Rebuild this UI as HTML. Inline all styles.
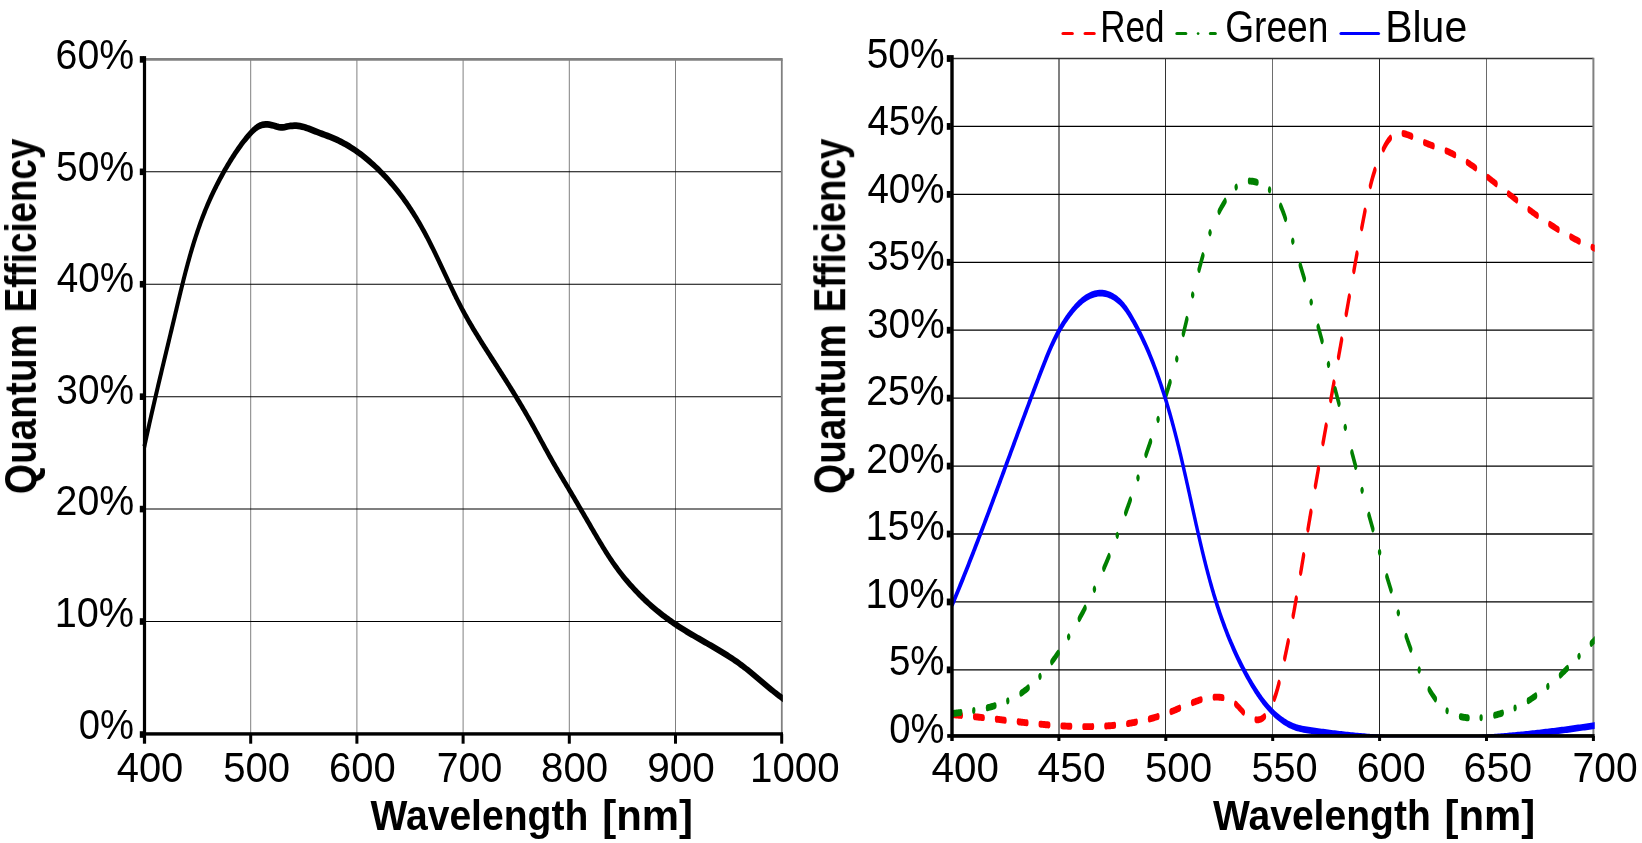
<!DOCTYPE html>
<html><head><meta charset="utf-8"><title>Quantum Efficiency</title>
<style>
html,body{margin:0;padding:0;background:#fff;}
svg{display:block;}
text{font-family:"Liberation Sans",sans-serif;}
text{filter:url(#gs);}
</style></head><body>
<svg width="1642" height="843" viewBox="0 0 1642 843">
<rect x="0" y="0" width="1642" height="843" fill="#fff"/>
<defs>
<filter id="gs" x="-5%" y="-20%" width="110%" height="140%" color-interpolation-filters="sRGB"><feOffset dx="0" dy="0"/></filter>
<clipPath id="lc"><rect x="140" y="0" width="642.8" height="737"/></clipPath>
<clipPath id="rc"><rect x="950" y="0" width="644.7" height="737.2"/></clipPath>
</defs>
<g fill="none">
<line x1="250.70" y1="59.40" x2="250.70" y2="733.92" stroke="#808080" stroke-width="1"/>
<line x1="356.90" y1="59.40" x2="356.90" y2="733.92" stroke="#808080" stroke-width="1"/>
<line x1="463.10" y1="59.40" x2="463.10" y2="733.92" stroke="#808080" stroke-width="1"/>
<line x1="569.30" y1="59.40" x2="569.30" y2="733.92" stroke="#808080" stroke-width="1"/>
<line x1="675.50" y1="59.40" x2="675.50" y2="733.92" stroke="#808080" stroke-width="1"/>
<line x1="144.50" y1="171.82" x2="781.70" y2="171.82" stroke="#000" stroke-width="1.05"/>
<line x1="144.50" y1="284.24" x2="781.70" y2="284.24" stroke="#000" stroke-width="1.05"/>
<line x1="144.50" y1="396.66" x2="781.70" y2="396.66" stroke="#000" stroke-width="1.05"/>
<line x1="144.50" y1="509.08" x2="781.70" y2="509.08" stroke="#000" stroke-width="1.05"/>
<line x1="144.50" y1="621.50" x2="781.70" y2="621.50" stroke="#000" stroke-width="1.05"/>
<line x1="144.50" y1="59.40" x2="782.70" y2="59.40" stroke="#808080" stroke-width="2.7"/>
<line x1="781.80" y1="59.40" x2="781.80" y2="733.92" stroke="#808080" stroke-width="1.8"/>
</g>
<g clip-path="url(#lc)"><g transform="scale(1,1.750)"><path d="M144.27,255.40 L144.67,254.32 L145.08,253.24 L145.49,252.16 L145.90,251.08 L146.31,249.99 L146.73,248.91 L147.14,247.83 L147.56,246.75 L147.98,245.67 L148.40,244.59 L148.82,243.52 L149.24,242.44 L149.66,241.36 L150.09,240.28 L150.51,239.20 L150.94,238.12 L151.37,237.04 L151.80,235.96 L152.23,234.89 L152.67,233.81 L153.10,232.73 L153.53,231.65 L153.97,230.57 L154.41,229.50 L154.84,228.42 L155.28,227.34 L155.72,226.27 L156.16,225.19 L156.60,224.11 L157.05,223.03 L157.49,221.96 L157.93,220.88 L158.38,219.80 L158.82,218.73 L159.27,217.65 L159.71,216.57 L160.16,215.50 L160.61,214.42 L161.06,213.35 L161.51,212.27 L161.95,211.19 L162.40,210.12 L162.85,209.04 L163.30,207.97 L163.75,206.89 L164.21,205.81 L164.66,204.74 L165.11,203.66 L165.56,202.59 L166.01,201.51 L166.46,200.43 L166.92,199.36 L167.37,198.28 L167.82,197.21 L168.27,196.13 L168.72,195.05 L169.18,193.98 L169.63,192.90 L170.08,191.83 L170.53,190.75 L170.98,189.67 L171.44,188.60 L171.89,187.52 L172.34,186.45 L172.79,185.37 L173.24,184.29 L173.69,183.22 L174.14,182.14 L174.59,181.06 L175.04,179.99 L175.48,178.91 L175.93,177.83 L176.38,176.76 L176.83,175.68 L177.28,174.60 L177.72,173.53 L178.17,172.45 L178.62,171.37 L179.07,170.30 L179.53,169.22 L179.98,168.14 L180.43,167.07 L180.89,165.99 L181.35,164.92 L181.81,163.84 L182.28,162.77 L182.74,161.70 L183.21,160.62 L183.68,159.55 L184.16,158.48 L184.64,157.41 L185.12,156.34 L185.60,155.27 L186.09,154.20 L186.59,153.13 L187.09,152.06 L187.59,150.99 L188.10,149.93 L188.61,148.86 L189.13,147.80 L189.65,146.73 L190.18,145.67 L190.71,144.61 L191.25,143.55 L191.80,142.49 L192.35,141.43 L192.91,140.37 L193.47,139.32 L194.05,138.26 L194.63,137.21 L195.21,136.16 L195.81,135.11 L196.41,134.06 L197.02,133.01 L197.64,131.96 L198.26,130.92 L198.90,129.87 L199.54,128.83 L200.19,127.79 L200.85,126.75 L201.52,125.71 L202.20,124.68 L202.89,123.64 L203.59,122.61 L204.30,121.58 L205.02,120.55 L205.75,119.52 L206.49,118.50 L207.24,117.47 L208.00,116.45 L208.77,115.43 L209.56,114.41 L210.35,113.40 L211.16,112.39 L211.98,111.38 L212.80,110.37 L213.64,109.36 L214.49,108.36 L215.35,107.36 L216.22,106.37 L217.09,105.37 L217.98,104.38 L218.88,103.40 L219.79,102.41 L220.70,101.44 L221.63,100.46 L222.57,99.49 L223.51,98.52 L224.46,97.56 L225.43,96.60 L226.40,95.65 L227.38,94.70 L228.36,93.76 L229.36,92.82 L230.36,91.89 L231.38,90.96 L232.40,90.03 L233.42,89.12 L234.46,88.20 L235.51,87.30 L236.56,86.40 L237.63,85.50 L238.72,84.61 L239.82,83.72 L240.94,82.84 L242.08,81.96 L243.25,81.09 L244.44,80.22 L245.66,79.36 L246.91,78.49 L248.19,77.64 L249.51,76.78 L250.86,75.93 L252.25,75.09 L253.68,74.28 L255.18,73.53 L256.73,72.84 L258.35,72.25 L260.05,71.77 L261.83,71.41 L263.69,71.20 L265.60,71.11 L267.55,71.13 L269.51,71.24 L271.46,71.45 L273.38,71.73 L275.26,72.05 L277.12,72.37 L278.97,72.63 L280.83,72.77 L282.71,72.75 L284.61,72.59 L286.53,72.37 L288.46,72.14 L290.40,71.97 L292.33,71.87 L294.26,71.82 L296.19,71.84 L298.10,71.93 L300.01,72.09 L301.89,72.31 L303.77,72.59 L305.63,72.91 L307.49,73.28 L309.33,73.67 L311.17,74.08 L313.00,74.49 L314.83,74.91 L316.65,75.32 L318.47,75.72 L320.29,76.11 L322.10,76.50 L323.90,76.88 L325.70,77.26 L327.50,77.65 L329.28,78.04 L331.05,78.44 L332.82,78.85 L334.57,79.28 L336.32,79.73 L338.05,80.19 L339.77,80.67 L341.48,81.17 L343.17,81.68 L344.86,82.21 L346.53,82.75 L348.19,83.31 L349.84,83.88 L351.48,84.47 L353.10,85.07 L354.72,85.69 L356.32,86.31 L357.90,86.96 L359.48,87.61 L361.04,88.27 L362.58,88.95 L364.12,89.64 L365.64,90.34 L367.15,91.05 L368.64,91.76 L370.13,92.49 L371.59,93.23 L373.05,93.98 L374.49,94.73 L375.91,95.49 L377.33,96.27 L378.72,97.04 L380.11,97.83 L381.48,98.62 L382.83,99.41 L384.17,100.22 L385.50,101.03 L386.82,101.84 L388.12,102.66 L389.40,103.49 L390.68,104.32 L391.94,105.16 L393.18,106.01 L394.42,106.86 L395.64,107.71 L396.85,108.57 L398.04,109.44 L399.23,110.31 L400.40,111.19 L401.56,112.07 L402.70,112.95 L403.84,113.85 L404.96,114.74 L406.08,115.64 L407.18,116.55 L408.27,117.46 L409.34,118.37 L410.41,119.29 L411.47,120.21 L412.51,121.14 L413.55,122.07 L414.58,123.00 L415.59,123.94 L416.59,124.88 L417.59,125.82 L418.57,126.77 L419.55,127.73 L420.51,128.68 L421.47,129.64 L422.42,130.60 L423.35,131.57 L424.28,132.54 L425.20,133.51 L426.11,134.48 L427.02,135.46 L427.91,136.44 L428.80,137.42 L429.68,138.41 L430.55,139.39 L431.42,140.38 L432.28,141.37 L433.14,142.36 L433.99,143.36 L434.84,144.35 L435.68,145.35 L436.52,146.35 L437.35,147.35 L438.19,148.35 L439.01,149.35 L439.84,150.35 L440.67,151.36 L441.49,152.36 L442.31,153.36 L443.13,154.37 L443.95,155.37 L444.77,156.38 L445.60,157.38 L446.42,158.38 L447.24,159.39 L448.06,160.39 L448.89,161.39 L449.72,162.40 L450.55,163.40 L451.38,164.40 L452.22,165.40 L453.06,166.40 L453.91,167.39 L454.76,168.39 L455.62,169.38 L456.48,170.37 L457.34,171.36 L458.21,172.35 L459.09,173.34 L459.98,174.32 L460.87,175.30 L461.77,176.28 L462.68,177.26 L463.60,178.23 L464.53,179.20 L465.46,180.17 L466.40,181.13 L467.35,182.10 L468.31,183.06 L469.27,184.02 L470.24,184.97 L471.22,185.93 L472.20,186.88 L473.19,187.83 L474.19,188.78 L475.19,189.72 L476.19,190.67 L477.20,191.61 L478.22,192.55 L479.24,193.49 L480.26,194.43 L481.29,195.37 L482.32,196.31 L483.35,197.25 L484.39,198.18 L485.43,199.11 L486.47,200.05 L487.51,200.98 L488.55,201.91 L489.60,202.85 L490.65,203.78 L491.69,204.71 L492.74,205.64 L493.79,206.57 L494.84,207.50 L495.89,208.43 L496.94,209.36 L497.98,210.29 L499.03,211.23 L500.07,212.16 L501.12,213.09 L502.16,214.02 L503.20,214.96 L504.23,215.89 L505.27,216.83 L506.30,217.76 L507.34,218.70 L508.37,219.64 L509.39,220.58 L510.42,221.52 L511.44,222.45 L512.46,223.40 L513.47,224.34 L514.49,225.28 L515.50,226.22 L516.50,227.17 L517.51,228.11 L518.51,229.06 L519.51,230.01 L520.50,230.96 L521.49,231.91 L522.48,232.86 L523.46,233.81 L524.44,234.76 L525.41,235.72 L526.39,236.68 L527.35,237.63 L528.31,238.59 L529.27,239.55 L530.22,240.52 L531.17,241.48 L532.12,242.45 L533.06,243.41 L534.00,244.38 L534.93,245.35 L535.86,246.32 L536.79,247.29 L537.72,248.26 L538.64,249.23 L539.57,250.20 L540.49,251.18 L541.42,252.15 L542.34,253.12 L543.27,254.09 L544.19,255.06 L545.12,256.03 L546.05,257.00 L546.98,257.97 L547.92,258.94 L548.86,259.91 L549.80,260.88 L550.75,261.84 L551.70,262.81 L552.65,263.77 L553.61,264.73 L554.58,265.69 L555.55,266.65 L556.52,267.60 L557.50,268.56 L558.48,269.51 L559.46,270.47 L560.45,271.42 L561.43,272.37 L562.42,273.33 L563.41,274.28 L564.40,275.23 L565.39,276.18 L566.38,277.13 L567.38,278.08 L568.37,279.03 L569.35,279.98 L570.34,280.93 L571.33,281.88 L572.31,282.84 L573.30,283.79 L574.28,284.74 L575.26,285.70 L576.24,286.65 L577.22,287.60 L578.20,288.56 L579.17,289.51 L580.15,290.47 L581.13,291.42 L582.10,292.38 L583.08,293.33 L584.05,294.29 L585.02,295.24 L586.00,296.20 L586.97,297.15 L587.95,298.11 L588.92,299.07 L589.89,300.02 L590.87,300.98 L591.84,301.93 L592.82,302.89 L593.80,303.85 L594.77,304.80 L595.75,305.76 L596.73,306.71 L597.72,307.67 L598.70,308.62 L599.69,309.57 L600.69,310.52 L601.69,311.47 L602.70,312.42 L603.71,313.36 L604.73,314.30 L605.76,315.24 L606.79,316.18 L607.84,317.11 L608.89,318.03 L609.95,318.96 L611.02,319.88 L612.11,320.80 L613.20,321.71 L614.31,322.61 L615.43,323.51 L616.56,324.41 L617.71,325.30 L618.87,326.19 L620.04,327.07 L621.22,327.94 L622.42,328.81 L623.63,329.67 L624.85,330.53 L626.09,331.38 L627.34,332.23 L628.60,333.07 L629.87,333.90 L631.15,334.73 L632.45,335.55 L633.76,336.37 L635.08,337.18 L636.41,337.98 L637.75,338.78 L639.10,339.57 L640.47,340.35 L641.85,341.13 L643.24,341.90 L644.63,342.67 L646.04,343.43 L647.47,344.18 L648.90,344.93 L650.34,345.66 L651.79,346.40 L653.26,347.12 L654.73,347.84 L656.21,348.55 L657.71,349.25 L659.21,349.95 L660.73,350.64 L662.25,351.32 L663.79,352.00 L665.33,352.66 L666.88,353.32 L668.45,353.98 L670.02,354.62 L671.60,355.26 L673.19,355.89 L674.79,356.51 L676.40,357.13 L678.01,357.73 L679.64,358.34 L681.27,358.93 L682.91,359.52 L684.55,360.10 L686.20,360.68 L687.86,361.25 L689.52,361.82 L691.19,362.39 L692.86,362.95 L694.53,363.51 L696.20,364.07 L697.88,364.62 L699.56,365.17 L701.24,365.73 L702.92,366.28 L704.61,366.83 L706.29,367.38 L707.97,367.93 L709.65,368.48 L711.33,369.03 L713.00,369.59 L714.67,370.15 L716.34,370.71 L718.01,371.27 L719.67,371.84 L721.33,372.41 L722.98,372.98 L724.63,373.56 L726.27,374.15 L727.90,374.74 L729.52,375.33 L731.14,375.94 L732.75,376.55 L734.35,377.17 L735.94,377.79 L737.52,378.42 L739.09,379.07 L740.65,379.72 L742.20,380.38 L743.74,381.05 L745.27,381.72 L746.79,382.41 L748.30,383.10 L749.81,383.79 L751.31,384.50 L752.80,385.20 L754.29,385.91 L755.78,386.63 L757.26,387.34 L758.74,388.06 L760.22,388.77 L761.71,389.49 L763.19,390.21 L764.67,390.92 L766.15,391.64 L767.64,392.35 L769.13,393.06 L770.63,393.76 L772.13,394.46 L773.64,395.15 L775.16,395.84 L776.69,396.51 L778.22,397.19 L779.76,397.85 L781.32,398.50 L782.89,399.15 L784.47,399.78 L786.06,400.40" fill="none" stroke="#000" stroke-width="3.86" stroke-linejoin="round" stroke-linecap="butt"/></g></g>
<g fill="#000">
<rect x="142.90" y="56.10" width="3.2" height="687.60"/>
<rect x="142.90" y="732.22" width="640.10" height="3.4"/>
<rect x="139.8" y="56.10" width="4" height="6.6"/>
<rect x="139.8" y="168.52" width="4" height="6.6"/>
<rect x="139.8" y="280.94" width="4" height="6.6"/>
<rect x="139.8" y="393.36" width="4" height="6.6"/>
<rect x="139.8" y="505.78" width="4" height="6.6"/>
<rect x="139.8" y="618.20" width="4" height="6.6"/>
<rect x="139.8" y="731.22" width="4" height="6.6"/>
<rect x="249.20" y="733.92" width="3" height="9.78"/>
<rect x="355.40" y="733.92" width="3" height="9.78"/>
<rect x="461.60" y="733.92" width="3" height="9.78"/>
<rect x="567.80" y="733.92" width="3" height="9.78"/>
<rect x="674.00" y="733.92" width="3" height="9.78"/>
<rect x="780.20" y="733.92" width="3" height="9.78"/>
</g>
<text transform="translate(55.54,69.00) scale(0.9134,1)" font-size="43.00" font-weight="normal" fill="#000">60%</text>
<text transform="translate(55.94,180.60) scale(0.9087,1)" font-size="43.00" font-weight="normal" fill="#000">50%</text>
<text transform="translate(56.73,292.20) scale(0.8994,1)" font-size="43.00" font-weight="normal" fill="#000">40%</text>
<text transform="translate(56.33,403.80) scale(0.9040,1)" font-size="43.00" font-weight="normal" fill="#000">30%</text>
<text transform="translate(55.54,515.40) scale(0.9134,1)" font-size="43.00" font-weight="normal" fill="#000">20%</text>
<text transform="translate(54.72,627.00) scale(0.9230,1)" font-size="43.00" font-weight="normal" fill="#000">10%</text>
<text transform="translate(78.85,738.60) scale(0.8892,1)" font-size="43.00" font-weight="normal" fill="#000">0%</text>
<text transform="translate(116.70,781.70) scale(0.9289,1)" font-size="43.00" font-weight="normal" fill="#000">400</text>
<text transform="translate(223.19,781.70) scale(0.9333,1)" font-size="43.00" font-weight="normal" fill="#000">500</text>
<text transform="translate(329.00,781.70) scale(0.9303,1)" font-size="43.00" font-weight="normal" fill="#000">600</text>
<text transform="translate(436.74,781.70) scale(0.9127,1)" font-size="43.00" font-weight="normal" fill="#000">700</text>
<text transform="translate(541.09,781.70) scale(0.9347,1)" font-size="43.00" font-weight="normal" fill="#000">800</text>
<text transform="translate(647.28,781.70) scale(0.9420,1)" font-size="43.00" font-weight="normal" fill="#000">900</text>
<text transform="translate(749.98,781.70) scale(0.9375,1)" font-size="43.00" font-weight="normal" fill="#000">1000</text>
<text transform="translate(370.50,829.80) scale(0.9089,1)" font-size="43.00" font-weight="bold" fill="#000">Wavelength</text>
<text transform="translate(602.20,829.80) scale(0.9751,1)" font-size="43.00" font-weight="bold" fill="#000">[nm]</text>
<text transform="rotate(-90) translate(-494.15,36.00) scale(0.8912,1)" font-size="43.50" font-weight="bold" fill="#000">Quantum</text>
<text transform="rotate(-90) translate(-312.31,36.00) scale(0.8451,1)" font-size="43.50" font-weight="bold" fill="#000">Efficiency</text>
<g fill="none">
<rect x="1058" y="58.50" width="2" height="677.50" fill="#808080" stroke="none"/>
<rect x="1165" y="58.50" width="1" height="677.50" fill="#333" stroke="none"/>
<rect x="1272" y="58.50" width="1" height="677.50" fill="#6e6e6e" stroke="none"/>
<rect x="1379" y="58.50" width="1" height="677.50" fill="#222" stroke="none"/>
<rect x="1486" y="58.50" width="1" height="677.50" fill="#6a6a6a" stroke="none"/>
<line x1="952.00" y1="58.50" x2="1593.40" y2="58.50" stroke="#333" stroke-width="1.3"/>
<line x1="952.00" y1="126.43" x2="1593.40" y2="126.43" stroke="#000" stroke-width="1.3"/>
<line x1="952.00" y1="194.36" x2="1593.40" y2="194.36" stroke="#000" stroke-width="1.3"/>
<line x1="952.00" y1="262.29" x2="1593.40" y2="262.29" stroke="#000" stroke-width="1.3"/>
<line x1="952.00" y1="330.22" x2="1593.40" y2="330.22" stroke="#000" stroke-width="1.3"/>
<line x1="952.00" y1="398.15" x2="1593.40" y2="398.15" stroke="#000" stroke-width="1.3"/>
<line x1="952.00" y1="466.08" x2="1593.40" y2="466.08" stroke="#000" stroke-width="1.3"/>
<line x1="952.00" y1="534.01" x2="1593.40" y2="534.01" stroke="#000" stroke-width="1.3"/>
<line x1="952.00" y1="601.94" x2="1593.40" y2="601.94" stroke="#000" stroke-width="1.3"/>
<line x1="952.00" y1="669.87" x2="1593.40" y2="669.87" stroke="#000" stroke-width="1.3"/>
<line x1="1593.40" y1="57.80" x2="1593.40" y2="736.00" stroke="#808080" stroke-width="2"/>
</g>
<g clip-path="url(#rc)"><g transform="scale(1,2.100)"><path d="M952.15,340.32 L953.10,340.35 L954.06,340.39 L955.01,340.42 L955.96,340.46 L956.91,340.49 L957.87,340.53 L958.82,340.57 L959.78,340.61 L960.73,340.65 L961.69,340.69 L962.64,340.73 L963.60,340.77 L964.55,340.81 L965.51,340.85 L966.47,340.90 L967.42,340.94 L968.38,340.99 L969.34,341.03 L970.30,341.08 L971.25,341.12 L972.21,341.17 L973.17,341.22 L974.13,341.27 L975.09,341.31 L976.05,341.36 L977.01,341.41 L977.97,341.46 L978.93,341.51 L979.89,341.56 L980.85,341.61 L981.81,341.66 L982.78,341.71 L983.74,341.77 L984.70,341.82 L985.66,341.87 L986.62,341.92 L987.59,341.98 L988.55,342.03 L989.51,342.08 L990.48,342.14 L991.44,342.19 L992.41,342.24 L993.37,342.30 L994.33,342.35 L995.30,342.41 L996.26,342.46 L997.23,342.52 L998.19,342.57 L999.16,342.63 L1000.13,342.68 L1001.09,342.74 L1002.06,342.79 L1003.02,342.85 L1003.99,342.90 L1004.96,342.96 L1005.92,343.02 L1006.89,343.07 L1007.86,343.13 L1008.82,343.18 L1009.79,343.24 L1010.76,343.29 L1011.73,343.35 L1012.69,343.40 L1013.66,343.46 L1014.63,343.51 L1015.60,343.56 L1016.57,343.62 L1017.53,343.67 L1018.50,343.73 L1019.47,343.78 L1020.44,343.83 L1021.41,343.89 L1022.38,343.94 L1023.34,343.99 L1024.31,344.04 L1025.28,344.09 L1026.25,344.15 L1027.22,344.20 L1028.19,344.25 L1029.16,344.30 L1030.13,344.35 L1031.10,344.40 L1032.07,344.45 L1033.04,344.49 L1034.00,344.54 L1034.97,344.59 L1035.94,344.64 L1036.91,344.68 L1037.88,344.73 L1038.85,344.78 L1039.82,344.82 L1040.79,344.87 L1041.76,344.91 L1042.73,344.95 L1043.70,345.00 L1044.67,345.04 L1045.64,345.08 L1046.61,345.12 L1047.58,345.16 L1048.55,345.20 L1049.51,345.24 L1050.48,345.27 L1051.45,345.31 L1052.42,345.35 L1053.39,345.38 L1054.36,345.42 L1055.33,345.45 L1056.30,345.49 L1057.27,345.52 L1058.24,345.55 L1059.20,345.58 L1060.17,345.61 L1061.14,345.64 L1062.11,345.67 L1063.08,345.69 L1064.05,345.72 L1065.01,345.75 L1065.98,345.77 L1066.95,345.79 L1067.92,345.81 L1068.89,345.84 L1069.85,345.86 L1070.82,345.87 L1071.79,345.89 L1072.75,345.91 L1073.72,345.93 L1074.69,345.94 L1075.65,345.95 L1076.62,345.97 L1077.59,345.98 L1078.55,345.99 L1079.52,346.00 L1080.49,346.00 L1081.45,346.01 L1082.42,346.02 L1083.38,346.02 L1084.35,346.02 L1085.31,346.02 L1086.28,346.02 L1087.24,346.02 L1088.21,346.02 L1089.17,346.02 L1090.13,346.01 L1091.10,346.00 L1092.06,346.00 L1093.02,345.99 L1093.99,345.98 L1094.95,345.96 L1095.91,345.95 L1096.87,345.94 L1097.84,345.92 L1098.80,345.90 L1099.76,345.88 L1100.72,345.86 L1101.68,345.84 L1102.64,345.81 L1103.60,345.79 L1104.56,345.76 L1105.52,345.73 L1106.48,345.70 L1107.44,345.67 L1108.40,345.63 L1109.36,345.60 L1110.32,345.56 L1111.27,345.52 L1112.23,345.48 L1113.19,345.44 L1114.15,345.39 L1115.10,345.35 L1116.06,345.30 L1117.01,345.25 L1117.97,345.20 L1118.93,345.15 L1119.88,345.09 L1120.83,345.03 L1121.79,344.98 L1122.74,344.91 L1123.70,344.85 L1124.65,344.79 L1125.60,344.72 L1126.55,344.65 L1127.51,344.58 L1128.46,344.51 L1129.41,344.44 L1130.36,344.36 L1131.31,344.28 L1132.26,344.20 L1133.21,344.12 L1134.16,344.03 L1135.11,343.95 L1136.06,343.86 L1137.00,343.77 L1137.95,343.68 L1138.90,343.58 L1139.84,343.48 L1140.79,343.38 L1141.74,343.28 L1142.68,343.18 L1143.63,343.07 L1144.57,342.97 L1145.51,342.85 L1146.46,342.74 L1147.40,342.63 L1148.34,342.51 L1149.29,342.39 L1150.23,342.27 L1151.17,342.14 L1152.11,342.02 L1153.05,341.89 L1153.99,341.76 L1154.93,341.62 L1155.86,341.49 L1156.80,341.35 L1157.74,341.21 L1158.68,341.06 L1159.61,340.92 L1160.55,340.77 L1161.48,340.62 L1162.42,340.46 L1163.35,340.31 L1164.29,340.15 L1165.22,339.99 L1166.15,339.82 L1167.08,339.66 L1168.01,339.49 L1168.95,339.32 L1169.88,339.14 L1170.81,338.96 L1171.73,338.78 L1172.66,338.60 L1173.59,338.42 L1174.52,338.23 L1175.44,338.05 L1176.37,337.86 L1177.30,337.67 L1178.22,337.48 L1179.14,337.29 L1180.07,337.09 L1180.99,336.90 L1181.91,336.71 L1182.83,336.52 L1183.76,336.33 L1184.68,336.14 L1185.59,335.95 L1186.51,335.77 L1187.43,335.58 L1188.35,335.40 L1189.27,335.22 L1190.18,335.04 L1191.10,334.86 L1192.01,334.69 L1192.93,334.52 L1193.84,334.35 L1194.75,334.19 L1195.66,334.03 L1196.57,333.87 L1197.49,333.72 L1198.39,333.58 L1199.30,333.43 L1200.21,333.30 L1201.12,333.16 L1202.03,333.04 L1202.93,332.92 L1203.84,332.80 L1204.74,332.69 L1205.64,332.59 L1206.55,332.49 L1207.45,332.41 L1208.35,332.32 L1209.25,332.25 L1210.15,332.18 L1211.05,332.12 L1211.95,332.07 L1212.84,332.03 L1213.74,332.00 L1214.63,331.97 L1215.53,331.96 L1216.42,331.95 L1217.31,331.95 L1218.21,331.97 L1219.10,331.99 L1219.99,332.02 L1220.88,332.07 L1221.76,332.12 L1222.64,332.19 L1223.52,332.27 L1224.40,332.37 L1225.27,332.47 L1226.13,332.59 L1226.99,332.73 L1227.85,332.88 L1228.69,333.05 L1229.53,333.23 L1230.36,333.44 L1231.18,333.65 L1231.99,333.89 L1232.79,334.15 L1233.58,334.42 L1234.36,334.71 L1235.13,335.03 L1235.89,335.36 L1236.64,335.71 L1237.38,336.07 L1238.12,336.44 L1238.85,336.81 L1239.58,337.20 L1240.31,337.58 L1241.05,337.97 L1241.79,338.36 L1242.53,338.74 L1243.28,339.11 L1244.03,339.48 L1244.80,339.83 L1245.58,340.17 L1246.37,340.49 L1247.17,340.80 L1247.98,341.09 L1248.79,341.36 L1249.61,341.61 L1250.44,341.83 L1251.26,342.04 L1252.09,342.23 L1252.91,342.39 L1253.74,342.52 L1254.55,342.63 L1255.37,342.71 L1256.17,342.77 L1256.97,342.79 L1257.75,342.79 L1258.53,342.75 L1259.29,342.68 L1260.03,342.58 L1260.76,342.45 L1261.48,342.28 L1262.18,342.09 L1262.86,341.86 L1263.53,341.61 L1264.18,341.34 L1264.82,341.04 L1265.45,340.72 L1266.06,340.38 L1266.65,340.01 L1267.23,339.63 L1267.80,339.24 L1268.35,338.83 L1268.89,338.40 L1269.41,337.97 L1269.92,337.52 L1270.41,337.06 L1270.89,336.60 L1271.36,336.13 L1271.81,335.66 L1272.25,335.18 L1272.68,334.70 L1273.09,334.22 L1273.49,333.74 L1273.87,333.26 L1274.24,332.79 L1274.60,332.32 L1274.95,331.85 L1275.28,331.39 L1275.60,330.93 L1275.92,330.48 L1276.22,330.02 L1276.51,329.57 L1276.79,329.13 L1277.07,328.68 L1277.34,328.24 L1277.60,327.80 L1277.85,327.36 L1278.10,326.92 L1278.34,326.48 L1278.58,326.04 L1278.82,325.61 L1279.05,325.17 L1279.27,324.74 L1279.50,324.30 L1279.72,323.87 L1279.94,323.43 L1280.16,322.99 L1280.38,322.55 L1280.60,322.12 L1280.82,321.68 L1281.03,321.24 L1281.25,320.80 L1281.47,320.36 L1281.68,319.91 L1281.90,319.47 L1282.11,319.03 L1282.32,318.58 L1282.53,318.14 L1282.75,317.69 L1282.96,317.25 L1283.17,316.80 L1283.38,316.36 L1283.58,315.91 L1283.79,315.46 L1284.00,315.01 L1284.21,314.56 L1284.41,314.12 L1284.62,313.67 L1284.82,313.22 L1285.03,312.77 L1285.23,312.32 L1285.43,311.87 L1285.63,311.41 L1285.83,310.96 L1286.03,310.51 L1286.23,310.06 L1286.43,309.61 L1286.63,309.15 L1286.83,308.70 L1287.02,308.25 L1287.22,307.80 L1287.42,307.34 L1287.61,306.89 L1287.80,306.43 L1288.00,305.98 L1288.19,305.53 L1288.38,305.07 L1288.57,304.62 L1288.76,304.16 L1288.95,303.71 L1289.14,303.26 L1289.33,302.80 L1289.52,302.35 L1289.71,301.89 L1289.89,301.44 L1290.08,300.98 L1290.27,300.53 L1290.45,300.07 L1290.63,299.62 L1290.82,299.17 L1291.00,298.71 L1291.18,298.26 L1291.37,297.80 L1291.55,297.35 L1291.73,296.89 L1291.91,296.44 L1292.09,295.98 L1292.27,295.53 L1292.44,295.07 L1292.62,294.62 L1292.80,294.16 L1292.98,293.71 L1293.15,293.25 L1293.33,292.80 L1293.50,292.34 L1293.68,291.89 L1293.85,291.43 L1294.03,290.98 L1294.20,290.52 L1294.37,290.07 L1294.55,289.61 L1294.72,289.16 L1294.89,288.70 L1295.06,288.25 L1295.23,287.79 L1295.40,287.34 L1295.57,286.88 L1295.74,286.43 L1295.91,285.97 L1296.08,285.51 L1296.25,285.06 L1296.42,284.60 L1296.58,284.15 L1296.75,283.69 L1296.92,283.24 L1297.09,282.78 L1297.25,282.33 L1297.42,281.87 L1297.58,281.42 L1297.75,280.96 L1297.91,280.50 L1298.08,280.05 L1298.24,279.59 L1298.41,279.14 L1298.57,278.68 L1298.74,278.23 L1298.90,277.77 L1299.06,277.32 L1299.23,276.86 L1299.39,276.40 L1299.55,275.95 L1299.71,275.49 L1299.88,275.04 L1300.04,274.58 L1300.20,274.13 L1300.36,273.67 L1300.52,273.21 L1300.68,272.76 L1300.84,272.30 L1301.01,271.85 L1301.17,271.39 L1301.33,270.94 L1301.49,270.48 L1301.65,270.02 L1301.81,269.57 L1301.97,269.11 L1302.13,268.66 L1302.29,268.20 L1302.45,267.75 L1302.61,267.29 L1302.77,266.83 L1302.93,266.38 L1303.09,265.92 L1303.24,265.47 L1303.40,265.01 L1303.56,264.56 L1303.72,264.10 L1303.88,263.65 L1304.04,263.19 L1304.20,262.73 L1304.36,262.28 L1304.52,261.82 L1304.68,261.37 L1304.84,260.91 L1305.00,260.46 L1305.16,260.00 L1305.32,259.54 L1305.48,259.09 L1305.64,258.63 L1305.79,258.18 L1305.95,257.72 L1306.11,257.27 L1306.27,256.81 L1306.43,256.36 L1306.59,255.90 L1306.75,255.44 L1306.91,254.99 L1307.07,254.53 L1307.24,254.08 L1307.40,253.62 L1307.56,253.17 L1307.72,252.71 L1307.88,252.26 L1308.04,251.80 L1308.20,251.35 L1308.36,250.89 L1308.53,250.43 L1308.69,249.98 L1308.85,249.52 L1309.01,249.07 L1309.17,248.61 L1309.34,248.16 L1309.50,247.70 L1309.66,247.25 L1309.82,246.79 L1309.99,246.34 L1310.15,245.88 L1310.31,245.43 L1310.48,244.97 L1310.64,244.52 L1310.81,244.06 L1310.97,243.61 L1311.13,243.15 L1311.30,242.70 L1311.46,242.24 L1311.63,241.79 L1311.79,241.33 L1311.95,240.88 L1312.12,240.42 L1312.28,239.97 L1312.45,239.51 L1312.61,239.06 L1312.78,238.60 L1312.95,238.15 L1313.11,237.69 L1313.28,237.24 L1313.44,236.78 L1313.61,236.33 L1313.77,235.87 L1313.94,235.42 L1314.11,234.96 L1314.27,234.51 L1314.44,234.05 L1314.61,233.60 L1314.77,233.14 L1314.94,232.69 L1315.11,232.23 L1315.27,231.78 L1315.44,231.32 L1315.61,230.87 L1315.78,230.41 L1315.94,229.96 L1316.11,229.50 L1316.28,229.05 L1316.45,228.59 L1316.61,228.14 L1316.78,227.69 L1316.95,227.23 L1317.12,226.78 L1317.29,226.32 L1317.45,225.87 L1317.62,225.41 L1317.79,224.96 L1317.96,224.50 L1318.13,224.05 L1318.30,223.59 L1318.47,223.14 L1318.63,222.68 L1318.80,222.23 L1318.97,221.77 L1319.14,221.32 L1319.31,220.87 L1319.48,220.41 L1319.65,219.96 L1319.82,219.50 L1319.99,219.05 L1320.16,218.59 L1320.33,218.14 L1320.50,217.68 L1320.67,217.23 L1320.84,216.77 L1321.01,216.32 L1321.18,215.86 L1321.35,215.41 L1321.52,214.96 L1321.69,214.50 L1321.86,214.05 L1322.03,213.59 L1322.20,213.14 L1322.37,212.68 L1322.54,212.23 L1322.71,211.77 L1322.88,211.32 L1323.05,210.87 L1323.23,210.41 L1323.40,209.96 L1323.57,209.50 L1323.74,209.05 L1323.91,208.59 L1324.08,208.14 L1324.25,207.68 L1324.42,207.23 L1324.59,206.77 L1324.77,206.32 L1324.94,205.87 L1325.11,205.41 L1325.28,204.96 L1325.45,204.50 L1325.62,204.05 L1325.80,203.59 L1325.97,203.14 L1326.14,202.68 L1326.31,202.23 L1326.48,201.78 L1326.65,201.32 L1326.83,200.87 L1327.00,200.41 L1327.17,199.96 L1327.34,199.50 L1327.51,199.05 L1327.69,198.59 L1327.86,198.14 L1328.03,197.69 L1328.20,197.23 L1328.38,196.78 L1328.55,196.32 L1328.72,195.87 L1328.89,195.41 L1329.06,194.96 L1329.24,194.50 L1329.41,194.05 L1329.58,193.59 L1329.75,193.14 L1329.93,192.69 L1330.10,192.23 L1330.27,191.78 L1330.44,191.32 L1330.62,190.87 L1330.79,190.41 L1330.96,189.96 L1331.13,189.50 L1331.31,189.05 L1331.48,188.60 L1331.65,188.14 L1331.82,187.69 L1332.00,187.23 L1332.17,186.78 L1332.34,186.32 L1332.51,185.87 L1332.69,185.41 L1332.86,184.96 L1333.03,184.50 L1333.20,184.05 L1333.38,183.60 L1333.55,183.14 L1333.72,182.69 L1333.90,182.23 L1334.07,181.78 L1334.24,181.32 L1334.41,180.87 L1334.59,180.41 L1334.76,179.96 L1334.93,179.50 L1335.10,179.05 L1335.28,178.60 L1335.45,178.14 L1335.62,177.69 L1335.79,177.23 L1335.97,176.78 L1336.14,176.32 L1336.31,175.87 L1336.48,175.41 L1336.65,174.96 L1336.83,174.50 L1337.00,174.05 L1337.17,173.59 L1337.34,173.14 L1337.52,172.68 L1337.69,172.23 L1337.86,171.77 L1338.03,171.32 L1338.21,170.87 L1338.38,170.41 L1338.55,169.96 L1338.72,169.50 L1338.89,169.05 L1339.07,168.59 L1339.24,168.14 L1339.41,167.68 L1339.58,167.23 L1339.75,166.77 L1339.92,166.32 L1340.10,165.86 L1340.27,165.41 L1340.44,164.95 L1340.61,164.50 L1340.78,164.04 L1340.95,163.59 L1341.13,163.13 L1341.30,162.68 L1341.47,162.22 L1341.64,161.77 L1341.81,161.31 L1341.98,160.86 L1342.15,160.40 L1342.32,159.95 L1342.50,159.49 L1342.67,159.04 L1342.84,158.58 L1343.01,158.13 L1343.18,157.67 L1343.35,157.22 L1343.52,156.76 L1343.69,156.31 L1343.86,155.85 L1344.03,155.40 L1344.20,154.94 L1344.37,154.49 L1344.54,154.03 L1344.71,153.58 L1344.88,153.12 L1345.05,152.67 L1345.22,152.21 L1345.39,151.76 L1345.56,151.30 L1345.73,150.84 L1345.90,150.39 L1346.07,149.93 L1346.24,149.48 L1346.41,149.02 L1346.58,148.57 L1346.75,148.11 L1346.92,147.66 L1347.09,147.20 L1347.26,146.75 L1347.43,146.29 L1347.60,145.84 L1347.77,145.38 L1347.94,144.92 L1348.10,144.47 L1348.27,144.01 L1348.44,143.56 L1348.61,143.10 L1348.78,142.65 L1348.95,142.19 L1349.12,141.74 L1349.29,141.28 L1349.46,140.83 L1349.63,140.37 L1349.79,139.91 L1349.96,139.46 L1350.13,139.00 L1350.30,138.55 L1350.47,138.09 L1350.64,137.64 L1350.81,137.18 L1350.98,136.73 L1351.15,136.27 L1351.32,135.82 L1351.49,135.36 L1351.66,134.91 L1351.83,134.45 L1352.00,134.00 L1352.17,133.54 L1352.34,133.09 L1352.51,132.63 L1352.67,132.18 L1352.84,131.72 L1353.02,131.27 L1353.19,130.81 L1353.36,130.36 L1353.53,129.90 L1353.70,129.45 L1353.87,128.99 L1354.04,128.54 L1354.21,128.08 L1354.38,127.63 L1354.55,127.17 L1354.72,126.72 L1354.89,126.26 L1355.06,125.81 L1355.24,125.35 L1355.41,124.90 L1355.58,124.44 L1355.75,123.99 L1355.92,123.54 L1356.10,123.08 L1356.27,122.63 L1356.44,122.17 L1356.62,121.72 L1356.79,121.27 L1356.96,120.81 L1357.14,120.36 L1357.31,119.90 L1357.48,119.45 L1357.66,119.00 L1357.83,118.54 L1358.01,118.09 L1358.18,117.63 L1358.36,117.18 L1358.53,116.73 L1358.71,116.27 L1358.88,115.82 L1359.06,115.37 L1359.23,114.91 L1359.41,114.46 L1359.59,114.01 L1359.76,113.55 L1359.94,113.10 L1360.12,112.65 L1360.29,112.20 L1360.47,111.74 L1360.65,111.29 L1360.83,110.84 L1361.01,110.39 L1361.19,109.93 L1361.37,109.48 L1361.55,109.03 L1361.72,108.58 L1361.90,108.12 L1362.09,107.67 L1362.27,107.22 L1362.45,106.77 L1362.63,106.32 L1362.81,105.86 L1362.99,105.41 L1363.17,104.96 L1363.36,104.51 L1363.54,104.06 L1363.72,103.61 L1363.91,103.16 L1364.09,102.71 L1364.27,102.25 L1364.46,101.80 L1364.64,101.35 L1364.83,100.90 L1365.01,100.45 L1365.20,100.00 L1365.39,99.55 L1365.57,99.10 L1365.76,98.65 L1365.95,98.20 L1366.14,97.75 L1366.33,97.30 L1366.52,96.85 L1366.71,96.40 L1366.90,95.95 L1367.10,95.50 L1367.29,95.05 L1367.49,94.61 L1367.69,94.16 L1367.89,93.71 L1368.09,93.26 L1368.30,92.81 L1368.51,92.36 L1368.72,91.91 L1368.93,91.46 L1369.14,91.02 L1369.36,90.57 L1369.58,90.12 L1369.80,89.67 L1370.03,89.23 L1370.26,88.78 L1370.49,88.33 L1370.73,87.88 L1370.97,87.44 L1371.21,86.99 L1371.46,86.54 L1371.71,86.10 L1371.96,85.65 L1372.22,85.20 L1372.48,84.76 L1372.75,84.31 L1373.02,83.86 L1373.30,83.42 L1373.58,82.97 L1373.87,82.53 L1374.16,82.08 L1374.45,81.63 L1374.75,81.19 L1375.06,80.74 L1375.37,80.30 L1375.69,79.85 L1376.01,79.41 L1376.34,78.97 L1376.68,78.52 L1377.02,78.08 L1377.36,77.63 L1377.72,77.19 L1378.08,76.74 L1378.44,76.30 L1378.82,75.86 L1379.20,75.41 L1379.58,74.97 L1379.98,74.53 L1380.38,74.08 L1380.78,73.64 L1381.20,73.20 L1381.62,72.76 L1382.05,72.31 L1382.49,71.87 L1382.93,71.43 L1383.39,70.99 L1383.85,70.55 L1384.32,70.11 L1384.80,69.68 L1385.29,69.26 L1385.79,68.84 L1386.30,68.42 L1386.83,68.02 L1387.36,67.63 L1387.90,67.24 L1388.46,66.87 L1389.03,66.51 L1389.61,66.17 L1390.21,65.84 L1390.82,65.53 L1391.44,65.23 L1392.08,64.96 L1392.73,64.70 L1393.40,64.46 L1394.08,64.25 L1394.78,64.06 L1395.49,63.89 L1396.23,63.75 L1396.98,63.64 L1397.74,63.55 L1398.53,63.49 L1399.33,63.45 L1400.14,63.44 L1400.97,63.45 L1401.82,63.49 L1402.68,63.54 L1403.55,63.61 L1404.43,63.71 L1405.32,63.82 L1406.22,63.94 L1407.14,64.08 L1408.06,64.24 L1408.99,64.40 L1409.92,64.58 L1410.87,64.77 L1411.81,64.97 L1412.77,65.17 L1413.72,65.38 L1414.69,65.60 L1415.65,65.82 L1416.61,66.05 L1417.58,66.27 L1418.55,66.50 L1419.51,66.73 L1420.48,66.95 L1421.44,67.17 L1422.40,67.39 L1423.36,67.60 L1424.31,67.81 L1425.26,68.01 L1426.20,68.20 L1427.14,68.39 L1428.08,68.57 L1429.01,68.74 L1429.94,68.91 L1430.86,69.08 L1431.78,69.25 L1432.69,69.41 L1433.60,69.57 L1434.51,69.72 L1435.41,69.88 L1436.31,70.03 L1437.21,70.18 L1438.10,70.34 L1438.99,70.49 L1439.87,70.64 L1440.75,70.80 L1441.63,70.95 L1442.51,71.11 L1443.38,71.27 L1444.25,71.44 L1445.12,71.60 L1445.99,71.78 L1446.85,71.95 L1447.71,72.13 L1448.57,72.31 L1449.42,72.50 L1450.27,72.69 L1451.12,72.88 L1451.97,73.08 L1452.81,73.28 L1453.65,73.48 L1454.49,73.69 L1455.33,73.90 L1456.17,74.11 L1457.00,74.33 L1457.83,74.55 L1458.66,74.77 L1459.49,75.00 L1460.31,75.22 L1461.13,75.46 L1461.95,75.69 L1462.77,75.92 L1463.59,76.16 L1464.40,76.40 L1465.21,76.65 L1466.02,76.89 L1466.83,77.14 L1467.64,77.39 L1468.44,77.65 L1469.25,77.90 L1470.05,78.16 L1470.85,78.42 L1471.65,78.68 L1472.44,78.94 L1473.24,79.21 L1474.03,79.47 L1474.82,79.74 L1475.62,80.01 L1476.40,80.28 L1477.19,80.56 L1477.98,80.83 L1478.77,81.11 L1479.55,81.38 L1480.33,81.66 L1481.11,81.94 L1481.89,82.22 L1482.67,82.50 L1483.45,82.79 L1484.23,83.07 L1485.01,83.36 L1485.78,83.64 L1486.56,83.93 L1487.33,84.22 L1488.10,84.51 L1488.88,84.79 L1489.65,85.08 L1490.42,85.37 L1491.19,85.66 L1491.96,85.95 L1492.72,86.25 L1493.49,86.54 L1494.26,86.83 L1495.03,87.12 L1495.79,87.41 L1496.56,87.70 L1497.32,87.99 L1498.09,88.29 L1498.85,88.58 L1499.62,88.87 L1500.38,89.16 L1501.14,89.45 L1501.91,89.74 L1502.67,90.03 L1503.43,90.32 L1504.19,90.61 L1504.96,90.90 L1505.72,91.19 L1506.48,91.48 L1507.24,91.77 L1508.01,92.06 L1508.77,92.34 L1509.53,92.63 L1510.29,92.92 L1511.06,93.21 L1511.82,93.49 L1512.58,93.78 L1513.34,94.06 L1514.11,94.35 L1514.87,94.64 L1515.63,94.92 L1516.40,95.20 L1517.16,95.49 L1517.93,95.77 L1518.69,96.05 L1519.46,96.34 L1520.22,96.62 L1520.99,96.90 L1521.76,97.18 L1522.52,97.46 L1523.29,97.74 L1524.06,98.02 L1524.83,98.30 L1525.60,98.58 L1526.37,98.85 L1527.14,99.13 L1527.91,99.41 L1528.68,99.68 L1529.45,99.96 L1530.23,100.23 L1531.00,100.50 L1531.78,100.77 L1532.56,101.05 L1533.33,101.32 L1534.11,101.59 L1534.89,101.86 L1535.67,102.13 L1536.45,102.39 L1537.23,102.66 L1538.02,102.93 L1538.80,103.19 L1539.59,103.46 L1540.37,103.72 L1541.16,103.98 L1541.95,104.24 L1542.74,104.51 L1543.53,104.77 L1544.33,105.03 L1545.12,105.28 L1545.92,105.54 L1546.72,105.80 L1547.51,106.05 L1548.31,106.31 L1549.12,106.56 L1549.92,106.81 L1550.72,107.06 L1551.53,107.31 L1552.34,107.56 L1553.15,107.81 L1553.96,108.06 L1554.77,108.30 L1555.59,108.55 L1556.40,108.79 L1557.22,109.03 L1558.04,109.27 L1558.86,109.51 L1559.69,109.75 L1560.51,109.99 L1561.34,110.23 L1562.17,110.46 L1563.00,110.70 L1563.83,110.93 L1564.67,111.16 L1565.50,111.39 L1566.34,111.62 L1567.19,111.85 L1568.03,112.07 L1568.87,112.30 L1569.72,112.52 L1570.57,112.74 L1571.43,112.96 L1572.28,113.18 L1573.14,113.40 L1574.00,113.62 L1574.86,113.83 L1575.72,114.05 L1576.59,114.26 L1577.46,114.47 L1578.33,114.68 L1579.20,114.89 L1580.08,115.09 L1580.96,115.30 L1581.84,115.50 L1582.73,115.70 L1583.61,115.90 L1584.50,116.10 L1585.40,116.30 L1586.29,116.49 L1587.19,116.69 L1588.09,116.88 L1588.99,117.07 L1589.90,117.26 L1590.81,117.44 L1591.72,117.63 L1592.64,117.81 L1593.55,117.99 L1594.47,118.17 L1595.40,118.35 L1596.33,118.53" fill="none" stroke="#ff0000" stroke-width="3.3" stroke-linecap="round" stroke-linejoin="round" stroke-dasharray="8.6 13.29" stroke-dashoffset="-0.6"/></g></g>
<g clip-path="url(#rc)"><g transform="scale(1,2.100)"><path d="M952.26,339.80 L953.31,339.74 L954.37,339.67 L955.44,339.61 L956.52,339.54 L957.60,339.48 L958.70,339.41 L959.80,339.34 L960.91,339.27 L962.03,339.20 L963.16,339.12 L964.29,339.05 L965.43,338.97 L966.57,338.89 L967.72,338.81 L968.88,338.73 L970.03,338.64 L971.20,338.56 L972.36,338.47 L973.53,338.37 L974.70,338.28 L975.88,338.18 L977.05,338.08 L978.23,337.97 L979.41,337.86 L980.59,337.75 L981.77,337.63 L982.95,337.52 L984.12,337.39 L985.30,337.26 L986.48,337.13 L987.65,337.00 L988.82,336.86 L989.99,336.72 L991.16,336.57 L992.32,336.41 L993.48,336.26 L994.63,336.09 L995.78,335.92 L996.92,335.75 L998.06,335.57 L999.19,335.39 L1000.32,335.20 L1001.44,335.01 L1002.55,334.80 L1003.65,334.60 L1004.75,334.39 L1005.84,334.17 L1006.91,333.94 L1007.98,333.71 L1009.04,333.47 L1010.09,333.23 L1011.13,332.98 L1012.16,332.72 L1013.18,332.46 L1014.19,332.19 L1015.19,331.91 L1016.18,331.63 L1017.17,331.35 L1018.14,331.05 L1019.10,330.76 L1020.06,330.45 L1021.01,330.14 L1021.95,329.83 L1022.88,329.51 L1023.80,329.18 L1024.71,328.85 L1025.62,328.52 L1026.52,328.18 L1027.41,327.83 L1028.29,327.48 L1029.16,327.13 L1030.03,326.77 L1030.89,326.41 L1031.74,326.04 L1032.59,325.67 L1033.42,325.29 L1034.26,324.91 L1035.08,324.53 L1035.90,324.14 L1036.71,323.75 L1037.51,323.36 L1038.31,322.96 L1039.10,322.56 L1039.88,322.15 L1040.66,321.74 L1041.44,321.33 L1042.20,320.92 L1042.97,320.50 L1043.72,320.08 L1044.47,319.66 L1045.22,319.23 L1045.96,318.80 L1046.69,318.37 L1047.42,317.93 L1048.14,317.50 L1048.86,317.06 L1049.58,316.62 L1050.29,316.18 L1050.99,315.73 L1051.69,315.29 L1052.39,314.84 L1053.08,314.39 L1053.77,313.94 L1054.46,313.48 L1055.14,313.03 L1055.81,312.57 L1056.49,312.11 L1057.16,311.66 L1057.82,311.20 L1058.49,310.74 L1059.15,310.28 L1059.80,309.81 L1060.46,309.35 L1061.11,308.89 L1061.76,308.42 L1062.40,307.96 L1063.04,307.49 L1063.68,307.03 L1064.32,306.56 L1064.95,306.09 L1065.58,305.62 L1066.21,305.15 L1066.83,304.68 L1067.45,304.21 L1068.07,303.74 L1068.68,303.27 L1069.30,302.79 L1069.91,302.32 L1070.51,301.85 L1071.12,301.37 L1071.72,300.89 L1072.31,300.42 L1072.91,299.94 L1073.50,299.46 L1074.09,298.98 L1074.68,298.50 L1075.27,298.02 L1075.85,297.54 L1076.43,297.06 L1077.00,296.58 L1077.58,296.10 L1078.15,295.61 L1078.72,295.13 L1079.28,294.64 L1079.85,294.16 L1080.41,293.67 L1080.97,293.19 L1081.53,292.70 L1082.08,292.21 L1082.63,291.72 L1083.18,291.23 L1083.73,290.74 L1084.27,290.25 L1084.81,289.76 L1085.35,289.27 L1085.89,288.78 L1086.42,288.29 L1086.96,287.79 L1087.49,287.30 L1088.02,286.80 L1088.54,286.31 L1089.06,285.81 L1089.59,285.32 L1090.10,284.82 L1090.62,284.32 L1091.14,283.83 L1091.65,283.33 L1092.16,282.83 L1092.67,282.33 L1093.17,281.83 L1093.68,281.33 L1094.18,280.83 L1094.68,280.33 L1095.18,279.83 L1095.67,279.32 L1096.17,278.82 L1096.66,278.32 L1097.15,277.82 L1097.64,277.31 L1098.12,276.81 L1098.61,276.30 L1099.09,275.80 L1099.57,275.29 L1100.05,274.78 L1100.52,274.28 L1101.00,273.77 L1101.47,273.26 L1101.94,272.75 L1102.41,272.25 L1102.88,271.74 L1103.35,271.23 L1103.81,270.72 L1104.27,270.21 L1104.73,269.70 L1105.19,269.19 L1105.65,268.67 L1106.11,268.16 L1106.56,267.65 L1107.01,267.14 L1107.47,266.63 L1107.91,266.11 L1108.36,265.60 L1108.81,265.08 L1109.25,264.57 L1109.70,264.06 L1110.14,263.54 L1110.58,263.03 L1111.02,262.51 L1111.46,261.99 L1111.89,261.48 L1112.33,260.96 L1112.76,260.44 L1113.19,259.93 L1113.62,259.41 L1114.05,258.89 L1114.48,258.37 L1114.91,257.86 L1115.33,257.34 L1115.76,256.82 L1116.18,256.30 L1116.60,255.78 L1117.02,255.26 L1117.44,254.74 L1117.86,254.22 L1118.28,253.70 L1118.70,253.18 L1119.11,252.66 L1119.53,252.14 L1119.94,251.62 L1120.35,251.09 L1120.76,250.57 L1121.17,250.05 L1121.58,249.53 L1121.99,249.01 L1122.39,248.48 L1122.80,247.96 L1123.20,247.44 L1123.61,246.91 L1124.01,246.39 L1124.41,245.87 L1124.81,245.34 L1125.21,244.82 L1125.61,244.30 L1126.01,243.77 L1126.41,243.25 L1126.81,242.72 L1127.20,242.20 L1127.60,241.67 L1127.99,241.15 L1128.39,240.62 L1128.78,240.10 L1129.18,239.57 L1129.57,239.05 L1129.96,238.52 L1130.35,238.00 L1130.74,237.47 L1131.13,236.95 L1131.52,236.42 L1131.91,235.90 L1132.30,235.37 L1132.68,234.84 L1133.07,234.32 L1133.46,233.79 L1133.84,233.27 L1134.23,232.74 L1134.61,232.21 L1135.00,231.69 L1135.38,231.16 L1135.77,230.63 L1136.15,230.11 L1136.53,229.58 L1136.92,229.06 L1137.30,228.53 L1137.68,228.00 L1138.06,227.48 L1138.45,226.95 L1138.83,226.42 L1139.21,225.90 L1139.59,225.37 L1139.97,224.84 L1140.35,224.32 L1140.73,223.79 L1141.11,223.27 L1141.49,222.74 L1141.87,222.21 L1142.25,221.69 L1142.63,221.16 L1143.01,220.64 L1143.39,220.11 L1143.77,219.58 L1144.15,219.06 L1144.53,218.53 L1144.91,218.01 L1145.29,217.48 L1145.67,216.96 L1146.05,216.43 L1146.43,215.91 L1146.81,215.38 L1147.19,214.86 L1147.57,214.33 L1147.95,213.81 L1148.33,213.28 L1148.71,212.76 L1149.09,212.23 L1149.47,211.71 L1149.85,211.18 L1150.23,210.66 L1150.61,210.13 L1150.99,209.61 L1151.37,209.08 L1151.75,208.56 L1152.12,208.03 L1152.50,207.51 L1152.88,206.98 L1153.26,206.46 L1153.63,205.94 L1154.01,205.41 L1154.38,204.89 L1154.76,204.36 L1155.13,203.84 L1155.51,203.31 L1155.88,202.79 L1156.26,202.26 L1156.63,201.74 L1157.00,201.21 L1157.37,200.69 L1157.74,200.16 L1158.12,199.64 L1158.49,199.11 L1158.86,198.59 L1159.22,198.06 L1159.59,197.54 L1159.96,197.01 L1160.33,196.48 L1160.69,195.96 L1161.06,195.43 L1161.42,194.91 L1161.79,194.38 L1162.15,193.85 L1162.51,193.33 L1162.87,192.80 L1163.23,192.27 L1163.59,191.75 L1163.95,191.22 L1164.31,190.69 L1164.67,190.17 L1165.02,189.64 L1165.38,189.11 L1165.73,188.58 L1166.08,188.05 L1166.44,187.53 L1166.79,187.00 L1167.14,186.47 L1167.48,185.94 L1167.83,185.41 L1168.18,184.88 L1168.52,184.35 L1168.87,183.82 L1169.21,183.29 L1169.55,182.76 L1169.89,182.23 L1170.23,181.70 L1170.57,181.17 L1170.91,180.64 L1171.24,180.11 L1171.58,179.58 L1171.91,179.05 L1172.24,178.51 L1172.57,177.98 L1172.90,177.45 L1173.23,176.92 L1173.55,176.38 L1173.88,175.85 L1174.20,175.31 L1174.52,174.78 L1174.84,174.25 L1175.16,173.71 L1175.48,173.18 L1175.79,172.64 L1176.11,172.11 L1176.42,171.57 L1176.73,171.03 L1177.04,170.50 L1177.34,169.96 L1177.65,169.42 L1177.95,168.88 L1178.26,168.35 L1178.56,167.81 L1178.86,167.27 L1179.15,166.73 L1179.45,166.19 L1179.75,165.65 L1180.04,165.11 L1180.33,164.57 L1180.63,164.03 L1180.92,163.49 L1181.21,162.95 L1181.49,162.41 L1181.78,161.87 L1182.07,161.33 L1182.35,160.79 L1182.64,160.24 L1182.92,159.70 L1183.20,159.16 L1183.49,158.62 L1183.77,158.08 L1184.05,157.53 L1184.33,156.99 L1184.61,156.45 L1184.88,155.91 L1185.16,155.36 L1185.44,154.82 L1185.71,154.28 L1185.99,153.73 L1186.27,153.19 L1186.54,152.65 L1186.82,152.10 L1187.09,151.56 L1187.36,151.02 L1187.64,150.48 L1187.91,149.93 L1188.18,149.39 L1188.46,148.85 L1188.73,148.30 L1189.00,147.76 L1189.28,147.22 L1189.55,146.67 L1189.82,146.13 L1190.09,145.59 L1190.37,145.05 L1190.64,144.50 L1190.91,143.96 L1191.19,143.42 L1191.46,142.88 L1191.74,142.33 L1192.01,141.79 L1192.29,141.25 L1192.56,140.71 L1192.84,140.17 L1193.11,139.63 L1193.39,139.08 L1193.67,138.54 L1193.94,138.00 L1194.22,137.46 L1194.50,136.92 L1194.78,136.38 L1195.06,135.84 L1195.34,135.30 L1195.63,134.76 L1195.91,134.22 L1196.19,133.68 L1196.48,133.15 L1196.77,132.61 L1197.05,132.07 L1197.34,131.53 L1197.63,130.99 L1197.92,130.46 L1198.21,129.92 L1198.50,129.39 L1198.80,128.85 L1199.09,128.31 L1199.39,127.78 L1199.69,127.24 L1199.99,126.71 L1200.29,126.18 L1200.59,125.64 L1200.89,125.11 L1201.20,124.58 L1201.50,124.04 L1201.81,123.51 L1202.12,122.98 L1202.43,122.45 L1202.75,121.92 L1203.06,121.39 L1203.38,120.86 L1203.70,120.33 L1204.02,119.80 L1204.34,119.28 L1204.67,118.75 L1204.99,118.22 L1205.32,117.70 L1205.66,117.17 L1205.99,116.65 L1206.33,116.12 L1206.68,115.60 L1207.03,115.07 L1207.38,114.55 L1207.74,114.03 L1208.10,113.51 L1208.46,112.98 L1208.83,112.46 L1209.21,111.94 L1209.59,111.42 L1209.98,110.91 L1210.37,110.39 L1210.77,109.87 L1211.18,109.35 L1211.59,108.84 L1212.01,108.32 L1212.43,107.81 L1212.86,107.29 L1213.31,106.78 L1213.75,106.26 L1214.21,105.75 L1214.67,105.24 L1215.14,104.73 L1215.63,104.22 L1216.11,103.71 L1216.61,103.20 L1217.12,102.69 L1217.64,102.18 L1218.16,101.67 L1218.70,101.16 L1219.25,100.66 L1219.80,100.15 L1220.37,99.65 L1220.95,99.14 L1221.54,98.64 L1222.13,98.14 L1222.75,97.64 L1223.37,97.13 L1224.00,96.63 L1224.65,96.13 L1225.31,95.63 L1225.98,95.14 L1226.66,94.64 L1227.36,94.14 L1228.07,93.65 L1228.79,93.16 L1229.53,92.68 L1230.28,92.20 L1231.04,91.74 L1231.82,91.28 L1232.61,90.84 L1233.41,90.40 L1234.23,89.98 L1235.07,89.58 L1235.91,89.19 L1236.78,88.82 L1237.66,88.47 L1238.55,88.14 L1239.46,87.84 L1240.38,87.55 L1241.33,87.29 L1242.28,87.05 L1243.25,86.85 L1244.24,86.67 L1245.25,86.52 L1246.27,86.40 L1247.31,86.31 L1248.36,86.26 L1249.43,86.23 L1250.50,86.24 L1251.58,86.27 L1252.67,86.33 L1253.76,86.42 L1254.86,86.53 L1255.95,86.66 L1257.04,86.82 L1258.13,87.00 L1259.21,87.21 L1260.28,87.43 L1261.34,87.67 L1262.38,87.94 L1263.42,88.22 L1264.43,88.51 L1265.42,88.82 L1266.40,89.15 L1267.34,89.49 L1268.27,89.84 L1269.16,90.21 L1270.03,90.58 L1270.86,90.97 L1271.66,91.36 L1272.44,91.77 L1273.19,92.18 L1273.91,92.61 L1274.60,93.04 L1275.27,93.48 L1275.92,93.93 L1276.54,94.38 L1277.15,94.84 L1277.73,95.31 L1278.29,95.79 L1278.83,96.27 L1279.36,96.76 L1279.87,97.25 L1280.36,97.75 L1280.84,98.25 L1281.30,98.76 L1281.75,99.27 L1282.19,99.79 L1282.61,100.31 L1283.03,100.83 L1283.44,101.35 L1283.84,101.88 L1284.23,102.41 L1284.62,102.94 L1285.00,103.47 L1285.38,104.01 L1285.75,104.54 L1286.13,105.08 L1286.50,105.61 L1286.87,106.15 L1287.24,106.68 L1287.61,107.22 L1287.97,107.75 L1288.34,108.29 L1288.71,108.82 L1289.07,109.36 L1289.44,109.89 L1289.80,110.43 L1290.17,110.96 L1290.53,111.50 L1290.89,112.03 L1291.25,112.57 L1291.61,113.10 L1291.97,113.64 L1292.33,114.17 L1292.68,114.71 L1293.04,115.24 L1293.40,115.78 L1293.75,116.31 L1294.11,116.84 L1294.46,117.38 L1294.82,117.91 L1295.17,118.45 L1295.52,118.98 L1295.87,119.52 L1296.22,120.05 L1296.57,120.59 L1296.92,121.12 L1297.27,121.66 L1297.61,122.19 L1297.96,122.73 L1298.31,123.26 L1298.65,123.80 L1299.00,124.33 L1299.34,124.87 L1299.69,125.40 L1300.03,125.93 L1300.37,126.47 L1300.71,127.00 L1301.05,127.54 L1301.39,128.07 L1301.73,128.61 L1302.07,129.14 L1302.41,129.68 L1302.75,130.21 L1303.09,130.75 L1303.42,131.28 L1303.76,131.82 L1304.09,132.35 L1304.43,132.88 L1304.76,133.42 L1305.09,133.95 L1305.43,134.49 L1305.76,135.02 L1306.09,135.56 L1306.42,136.09 L1306.75,136.63 L1307.08,137.16 L1307.41,137.70 L1307.74,138.23 L1308.07,138.76 L1308.40,139.30 L1308.73,139.83 L1309.05,140.37 L1309.38,140.90 L1309.71,141.44 L1310.03,141.97 L1310.36,142.51 L1310.68,143.04 L1311.00,143.58 L1311.33,144.11 L1311.65,144.65 L1311.97,145.18 L1312.29,145.71 L1312.62,146.25 L1312.94,146.78 L1313.26,147.32 L1313.58,147.85 L1313.90,148.39 L1314.22,148.92 L1314.53,149.46 L1314.85,149.99 L1315.17,150.53 L1315.49,151.06 L1315.80,151.60 L1316.12,152.13 L1316.44,152.67 L1316.75,153.20 L1317.07,153.73 L1317.38,154.27 L1317.70,154.80 L1318.01,155.34 L1318.32,155.87 L1318.64,156.41 L1318.95,156.94 L1319.26,157.48 L1319.58,158.01 L1319.89,158.55 L1320.20,159.08 L1320.51,159.62 L1320.82,160.15 L1321.13,160.69 L1321.44,161.22 L1321.75,161.76 L1322.06,162.29 L1322.37,162.83 L1322.68,163.36 L1322.99,163.90 L1323.29,164.43 L1323.60,164.97 L1323.91,165.50 L1324.22,166.04 L1324.52,166.57 L1324.83,167.11 L1325.14,167.64 L1325.44,168.18 L1325.75,168.71 L1326.05,169.25 L1326.36,169.78 L1326.66,170.32 L1326.97,170.85 L1327.27,171.39 L1327.58,171.92 L1327.88,172.46 L1328.19,172.99 L1328.49,173.53 L1328.79,174.06 L1329.10,174.60 L1329.40,175.13 L1329.70,175.67 L1330.00,176.21 L1330.31,176.74 L1330.61,177.28 L1330.91,177.81 L1331.21,178.35 L1331.51,178.88 L1331.82,179.42 L1332.12,179.95 L1332.42,180.49 L1332.72,181.02 L1333.02,181.56 L1333.32,182.10 L1333.62,182.63 L1333.92,183.17 L1334.22,183.70 L1334.52,184.24 L1334.82,184.77 L1335.12,185.31 L1335.42,185.85 L1335.72,186.38 L1336.02,186.92 L1336.32,187.45 L1336.62,187.99 L1336.92,188.53 L1337.22,189.06 L1337.51,189.60 L1337.81,190.13 L1338.11,190.67 L1338.41,191.21 L1338.71,191.74 L1339.01,192.28 L1339.31,192.81 L1339.61,193.35 L1339.90,193.89 L1340.20,194.42 L1340.50,194.96 L1340.80,195.50 L1341.10,196.03 L1341.40,196.57 L1341.69,197.10 L1341.99,197.64 L1342.29,198.18 L1342.59,198.71 L1342.89,199.25 L1343.19,199.79 L1343.48,200.32 L1343.78,200.86 L1344.08,201.40 L1344.38,201.93 L1344.68,202.47 L1344.98,203.01 L1345.28,203.54 L1345.57,204.08 L1345.87,204.62 L1346.17,205.16 L1346.47,205.69 L1346.77,206.23 L1347.07,206.77 L1347.37,207.30 L1347.67,207.84 L1347.97,208.38 L1348.26,208.91 L1348.56,209.45 L1348.86,209.99 L1349.16,210.53 L1349.46,211.06 L1349.76,211.60 L1350.06,212.14 L1350.36,212.68 L1350.66,213.21 L1350.96,213.75 L1351.26,214.29 L1351.56,214.82 L1351.86,215.36 L1352.16,215.90 L1352.46,216.44 L1352.77,216.97 L1353.07,217.51 L1353.37,218.05 L1353.67,218.59 L1353.97,219.12 L1354.27,219.66 L1354.57,220.20 L1354.88,220.74 L1355.18,221.27 L1355.48,221.81 L1355.78,222.35 L1356.09,222.89 L1356.39,223.42 L1356.69,223.96 L1357.00,224.50 L1357.30,225.04 L1357.60,225.57 L1357.91,226.11 L1358.21,226.65 L1358.52,227.19 L1358.82,227.72 L1359.13,228.26 L1359.43,228.80 L1359.74,229.33 L1360.04,229.87 L1360.35,230.41 L1360.66,230.95 L1360.96,231.48 L1361.27,232.02 L1361.58,232.56 L1361.88,233.10 L1362.19,233.63 L1362.50,234.17 L1362.81,234.71 L1363.11,235.24 L1363.42,235.78 L1363.73,236.32 L1364.04,236.85 L1364.35,237.39 L1364.66,237.93 L1364.97,238.46 L1365.28,239.00 L1365.59,239.54 L1365.90,240.08 L1366.21,240.61 L1366.53,241.15 L1366.84,241.69 L1367.15,242.22 L1367.46,242.76 L1367.78,243.29 L1368.09,243.83 L1368.40,244.37 L1368.72,244.90 L1369.03,245.44 L1369.35,245.98 L1369.66,246.51 L1369.98,247.05 L1370.30,247.58 L1370.61,248.12 L1370.93,248.66 L1371.25,249.19 L1371.56,249.73 L1371.88,250.26 L1372.20,250.80 L1372.52,251.33 L1372.84,251.87 L1373.16,252.41 L1373.48,252.94 L1373.80,253.48 L1374.12,254.01 L1374.44,254.55 L1374.76,255.08 L1375.08,255.62 L1375.41,256.15 L1375.73,256.69 L1376.05,257.22 L1376.38,257.76 L1376.70,258.29 L1377.03,258.83 L1377.35,259.36 L1377.68,259.89 L1378.01,260.43 L1378.33,260.96 L1378.66,261.50 L1378.99,262.03 L1379.32,262.56 L1379.64,263.10 L1379.97,263.63 L1380.30,264.17 L1380.63,264.70 L1380.96,265.23 L1381.30,265.77 L1381.63,266.30 L1381.96,266.83 L1382.29,267.37 L1382.63,267.90 L1382.96,268.43 L1383.30,268.97 L1383.63,269.50 L1383.97,270.03 L1384.30,270.56 L1384.64,271.10 L1384.98,271.63 L1385.31,272.16 L1385.65,272.69 L1385.99,273.22 L1386.33,273.76 L1386.67,274.29 L1387.01,274.82 L1387.35,275.35 L1387.70,275.88 L1388.04,276.41 L1388.38,276.94 L1388.73,277.48 L1389.07,278.01 L1389.42,278.54 L1389.76,279.07 L1390.11,279.60 L1390.45,280.13 L1390.80,280.66 L1391.15,281.19 L1391.50,281.72 L1391.85,282.25 L1392.20,282.78 L1392.55,283.31 L1392.90,283.84 L1393.25,284.37 L1393.61,284.90 L1393.96,285.43 L1394.31,285.95 L1394.67,286.48 L1395.02,287.01 L1395.38,287.54 L1395.74,288.07 L1396.09,288.60 L1396.45,289.12 L1396.81,289.65 L1397.17,290.18 L1397.53,290.71 L1397.89,291.24 L1398.26,291.76 L1398.62,292.29 L1398.98,292.82 L1399.34,293.34 L1399.71,293.87 L1400.08,294.40 L1400.44,294.92 L1400.81,295.45 L1401.18,295.98 L1401.54,296.50 L1401.91,297.03 L1402.28,297.55 L1402.65,298.08 L1403.03,298.60 L1403.40,299.13 L1403.77,299.65 L1404.15,300.18 L1404.52,300.70 L1404.90,301.23 L1405.27,301.75 L1405.65,302.28 L1406.03,302.80 L1406.41,303.32 L1406.79,303.85 L1407.17,304.37 L1407.55,304.89 L1407.94,305.42 L1408.33,305.94 L1408.72,306.46 L1409.11,306.98 L1409.50,307.50 L1409.90,308.02 L1410.30,308.54 L1410.70,309.06 L1411.10,309.58 L1411.51,310.10 L1411.92,310.62 L1412.33,311.14 L1412.75,311.66 L1413.17,312.18 L1413.59,312.69 L1414.02,313.21 L1414.45,313.73 L1414.89,314.24 L1415.33,314.76 L1415.77,315.27 L1416.22,315.79 L1416.67,316.30 L1417.13,316.81 L1417.59,317.32 L1418.06,317.83 L1418.53,318.35 L1419.01,318.86 L1419.49,319.36 L1419.98,319.87 L1420.48,320.38 L1420.98,320.89 L1421.48,321.39 L1422.00,321.90 L1422.51,322.41 L1423.04,322.91 L1423.57,323.41 L1424.11,323.92 L1424.65,324.42 L1425.20,324.92 L1425.76,325.42 L1426.33,325.92 L1426.90,326.41 L1427.48,326.91 L1428.06,327.41 L1428.66,327.90 L1429.26,328.40 L1429.88,328.89 L1430.50,329.38 L1431.13,329.86 L1431.76,330.34 L1432.41,330.82 L1433.07,331.29 L1433.74,331.76 L1434.42,332.22 L1435.11,332.68 L1435.82,333.13 L1436.53,333.57 L1437.26,334.00 L1438.00,334.43 L1438.75,334.85 L1439.51,335.25 L1440.29,335.65 L1441.08,336.04 L1441.89,336.42 L1442.71,336.79 L1443.54,337.15 L1444.39,337.49 L1445.26,337.82 L1446.14,338.14 L1447.04,338.45 L1447.95,338.74 L1448.88,339.02 L1449.83,339.28 L1450.79,339.53 L1451.76,339.77 L1452.75,339.99 L1453.76,340.20 L1454.78,340.40 L1455.81,340.58 L1456.85,340.76 L1457.91,340.92 L1458.97,341.06 L1460.05,341.20 L1461.14,341.32 L1462.24,341.43 L1463.35,341.53 L1464.46,341.62 L1465.59,341.70 L1466.72,341.77 L1467.86,341.82 L1469.01,341.87 L1470.17,341.90 L1471.33,341.93 L1472.50,341.94 L1473.67,341.94 L1474.84,341.94 L1476.03,341.92 L1477.21,341.90 L1478.40,341.87 L1479.59,341.83 L1480.78,341.77 L1481.98,341.72 L1483.17,341.65 L1484.37,341.57 L1485.57,341.49 L1486.77,341.39 L1487.96,341.29 L1489.16,341.19 L1490.35,341.07 L1491.54,340.95 L1492.73,340.82 L1493.92,340.69 L1495.10,340.54 L1496.28,340.40 L1497.46,340.24 L1498.62,340.08 L1499.79,339.91 L1500.95,339.74 L1502.10,339.56 L1503.24,339.38 L1504.38,339.19 L1505.51,339.00 L1506.63,338.80 L1507.74,338.60 L1508.85,338.39 L1509.95,338.17 L1511.04,337.96 L1512.12,337.74 L1513.20,337.51 L1514.27,337.28 L1515.34,337.04 L1516.39,336.80 L1517.44,336.56 L1518.48,336.31 L1519.52,336.06 L1520.55,335.80 L1521.58,335.54 L1522.59,335.27 L1523.60,335.00 L1524.61,334.73 L1525.61,334.45 L1526.60,334.17 L1527.59,333.89 L1528.57,333.60 L1529.55,333.31 L1530.52,333.01 L1531.48,332.71 L1532.44,332.41 L1533.40,332.10 L1534.35,331.79 L1535.29,331.48 L1536.23,331.16 L1537.17,330.84 L1538.10,330.52 L1539.02,330.20 L1539.94,329.87 L1540.86,329.54 L1541.77,329.20 L1542.68,328.87 L1543.58,328.53 L1544.48,328.18 L1545.38,327.84 L1546.27,327.49 L1547.16,327.14 L1548.04,326.79 L1548.92,326.43 L1549.80,326.07 L1550.67,325.71 L1551.54,325.35 L1552.41,324.99 L1553.27,324.62 L1554.13,324.25 L1554.99,323.88 L1555.85,323.51 L1556.70,323.13 L1557.55,322.76 L1558.39,322.38 L1559.24,322.00 L1560.08,321.62 L1560.92,321.24 L1561.76,320.85 L1562.59,320.46 L1563.43,320.08 L1564.26,319.69 L1565.09,319.30 L1565.91,318.91 L1566.74,318.51 L1567.56,318.12 L1568.39,317.72 L1569.21,317.33 L1570.03,316.93 L1570.85,316.53 L1571.67,316.13 L1572.48,315.74 L1573.30,315.34 L1574.12,314.93 L1574.93,314.53 L1575.75,314.13 L1576.56,313.73 L1577.37,313.32 L1578.19,312.92 L1579.00,312.52 L1579.81,312.11 L1580.62,311.71 L1581.44,311.30 L1582.25,310.90 L1583.06,310.50 L1583.87,310.09 L1584.69,309.69 L1585.50,309.28 L1586.32,308.88 L1587.13,308.47 L1587.95,308.07 L1588.77,307.67 L1589.59,307.26 L1590.41,306.86 L1591.23,306.46 L1592.05,306.06 L1592.87,305.66 L1593.70,305.26 L1594.52,304.86 L1595.35,304.46 L1596.18,304.07" fill="none" stroke="#008000" stroke-width="3.3" stroke-linecap="round" stroke-linejoin="round" stroke-dasharray="7.6 13.03 0.01 13.71" stroke-dashoffset="-0.93"/></g></g>
<g clip-path="url(#rc)"><g transform="scale(1,2.100)"><path d="M952.33,287.82 L952.96,287.10 L953.59,286.38 L954.22,285.67 L954.85,284.95 L955.47,284.23 L956.09,283.51 L956.72,282.79 L957.34,282.07 L957.96,281.35 L958.58,280.63 L959.19,279.91 L959.81,279.19 L960.43,278.47 L961.04,277.75 L961.65,277.03 L962.27,276.30 L962.88,275.58 L963.49,274.86 L964.10,274.13 L964.70,273.41 L965.31,272.69 L965.92,271.96 L966.52,271.24 L967.13,270.51 L967.73,269.79 L968.33,269.06 L968.93,268.34 L969.53,267.61 L970.13,266.88 L970.73,266.16 L971.33,265.43 L971.93,264.70 L972.52,263.98 L973.12,263.25 L973.71,262.52 L974.30,261.79 L974.90,261.07 L975.49,260.34 L976.08,259.61 L976.67,258.88 L977.26,258.15 L977.85,257.42 L978.44,256.69 L979.02,255.96 L979.61,255.23 L980.20,254.50 L980.78,253.77 L981.37,253.04 L981.95,252.31 L982.53,251.58 L983.12,250.85 L983.70,250.12 L984.28,249.38 L984.86,248.65 L985.44,247.92 L986.02,247.19 L986.60,246.46 L987.18,245.72 L987.76,244.99 L988.33,244.26 L988.91,243.53 L989.49,242.79 L990.06,242.06 L990.64,241.33 L991.21,240.60 L991.79,239.86 L992.36,239.13 L992.94,238.40 L993.51,237.66 L994.08,236.93 L994.66,236.20 L995.23,235.46 L995.80,234.73 L996.37,233.99 L996.94,233.26 L997.51,232.53 L998.09,231.79 L998.66,231.06 L999.23,230.32 L999.80,229.59 L1000.37,228.86 L1000.93,228.12 L1001.50,227.39 L1002.07,226.65 L1002.64,225.92 L1003.21,225.19 L1003.78,224.45 L1004.35,223.72 L1004.92,222.98 L1005.48,222.25 L1006.05,221.52 L1006.62,220.78 L1007.19,220.05 L1007.76,219.31 L1008.32,218.58 L1008.89,217.85 L1009.46,217.11 L1010.03,216.38 L1010.59,215.65 L1011.16,214.91 L1011.73,214.18 L1012.30,213.44 L1012.86,212.71 L1013.43,211.98 L1014.00,211.24 L1014.57,210.51 L1015.13,209.78 L1015.70,209.05 L1016.27,208.31 L1016.84,207.58 L1017.41,206.85 L1017.97,206.11 L1018.54,205.38 L1019.11,204.65 L1019.68,203.92 L1020.25,203.19 L1020.82,202.45 L1021.39,201.72 L1021.96,200.99 L1022.53,200.26 L1023.10,199.53 L1023.67,198.80 L1024.24,198.07 L1024.81,197.34 L1025.39,196.61 L1025.96,195.88 L1026.53,195.15 L1027.10,194.42 L1027.68,193.69 L1028.25,192.96 L1028.82,192.23 L1029.40,191.50 L1029.97,190.77 L1030.55,190.04 L1031.12,189.31 L1031.70,188.58 L1032.27,187.86 L1032.85,187.13 L1033.43,186.40 L1034.01,185.67 L1034.59,184.95 L1035.16,184.22 L1035.74,183.49 L1036.32,182.77 L1036.90,182.04 L1037.49,181.32 L1038.07,180.59 L1038.65,179.87 L1039.23,179.14 L1039.82,178.42 L1040.40,177.69 L1040.99,176.97 L1041.57,176.25 L1042.16,175.52 L1042.75,174.80 L1043.34,174.08 L1043.93,173.36 L1044.52,172.64 L1045.12,171.92 L1045.72,171.20 L1046.33,170.48 L1046.94,169.76 L1047.56,169.04 L1048.18,168.33 L1048.81,167.61 L1049.45,166.90 L1050.09,166.19 L1050.75,165.48 L1051.41,164.77 L1052.08,164.07 L1052.77,163.36 L1053.46,162.66 L1054.17,161.96 L1054.89,161.26 L1055.62,160.56 L1056.36,159.86 L1057.12,159.17 L1057.89,158.48 L1058.68,157.79 L1059.48,157.11 L1060.30,156.43 L1061.13,155.75 L1061.98,155.07 L1062.86,154.39 L1063.74,153.72 L1064.65,153.05 L1065.58,152.39 L1066.53,151.73 L1067.49,151.07 L1068.48,150.41 L1069.49,149.76 L1070.53,149.11 L1071.59,148.47 L1072.67,147.83 L1073.77,147.20 L1074.89,146.58 L1076.04,145.98 L1077.22,145.38 L1078.42,144.81 L1079.64,144.25 L1080.89,143.72 L1082.16,143.20 L1083.45,142.71 L1084.77,142.25 L1086.12,141.82 L1087.49,141.42 L1088.89,141.05 L1090.31,140.72 L1091.76,140.42 L1093.23,140.16 L1094.73,139.95 L1096.25,139.78 L1097.78,139.65 L1099.31,139.58 L1100.85,139.55 L1102.39,139.59 L1103.92,139.67 L1105.44,139.81 L1106.94,140.00 L1108.43,140.24 L1109.90,140.52 L1111.35,140.84 L1112.77,141.20 L1114.17,141.60 L1115.53,142.04 L1116.85,142.50 L1118.14,143.00 L1119.39,143.53 L1120.60,144.07 L1121.75,144.65 L1122.86,145.24 L1123.92,145.84 L1124.95,146.47 L1125.93,147.11 L1126.89,147.76 L1127.81,148.42 L1128.71,149.09 L1129.59,149.76 L1130.45,150.44 L1131.30,151.13 L1132.14,151.81 L1132.97,152.50 L1133.79,153.19 L1134.60,153.88 L1135.39,154.57 L1136.18,155.27 L1136.96,155.96 L1137.73,156.66 L1138.49,157.36 L1139.24,158.06 L1139.98,158.76 L1140.72,159.46 L1141.44,160.16 L1142.16,160.87 L1142.86,161.58 L1143.56,162.29 L1144.26,163.00 L1144.94,163.71 L1145.61,164.42 L1146.28,165.13 L1146.94,165.85 L1147.60,166.56 L1148.24,167.28 L1148.88,168.00 L1149.52,168.72 L1150.14,169.44 L1150.76,170.16 L1151.37,170.88 L1151.98,171.61 L1152.58,172.33 L1153.18,173.06 L1153.77,173.78 L1154.35,174.51 L1154.93,175.24 L1155.50,175.97 L1156.07,176.70 L1156.63,177.43 L1157.19,178.16 L1157.75,178.89 L1158.29,179.62 L1158.84,180.36 L1159.38,181.09 L1159.91,181.83 L1160.44,182.57 L1160.96,183.30 L1161.48,184.04 L1162.00,184.78 L1162.51,185.52 L1163.02,186.26 L1163.52,187.00 L1164.02,187.74 L1164.51,188.48 L1165.00,189.22 L1165.49,189.97 L1165.97,190.71 L1166.44,191.46 L1166.92,192.20 L1167.39,192.95 L1167.85,193.69 L1168.32,194.44 L1168.78,195.19 L1169.23,195.94 L1169.68,196.69 L1170.13,197.43 L1170.58,198.18 L1171.02,198.94 L1171.46,199.69 L1171.89,200.44 L1172.32,201.19 L1172.75,201.94 L1173.18,202.69 L1173.60,203.45 L1174.02,204.20 L1174.44,204.96 L1174.85,205.71 L1175.26,206.47 L1175.67,207.22 L1176.08,207.98 L1176.48,208.73 L1176.88,209.49 L1177.28,210.25 L1177.68,211.01 L1178.07,211.76 L1178.47,212.52 L1178.86,213.28 L1179.25,214.04 L1179.63,214.80 L1180.01,215.56 L1180.40,216.32 L1180.78,217.08 L1181.16,217.84 L1181.53,218.60 L1181.91,219.36 L1182.28,220.12 L1182.65,220.89 L1183.02,221.65 L1183.39,222.41 L1183.76,223.17 L1184.13,223.93 L1184.49,224.70 L1184.85,225.46 L1185.22,226.22 L1185.58,226.99 L1185.94,227.75 L1186.30,228.51 L1186.66,229.28 L1187.02,230.04 L1187.37,230.80 L1187.73,231.57 L1188.09,232.33 L1188.44,233.10 L1188.80,233.86 L1189.15,234.62 L1189.51,235.39 L1189.86,236.15 L1190.21,236.92 L1190.57,237.68 L1190.92,238.45 L1191.27,239.21 L1191.63,239.97 L1191.98,240.74 L1192.34,241.50 L1192.69,242.27 L1193.04,243.03 L1193.40,243.80 L1193.75,244.56 L1194.11,245.32 L1194.46,246.09 L1194.82,246.85 L1195.18,247.62 L1195.53,248.38 L1195.89,249.14 L1196.25,249.91 L1196.61,250.67 L1196.97,251.43 L1197.33,252.20 L1197.70,252.96 L1198.06,253.72 L1198.42,254.48 L1198.79,255.24 L1199.16,256.01 L1199.53,256.77 L1199.90,257.53 L1200.27,258.29 L1200.64,259.05 L1201.02,259.81 L1201.40,260.57 L1201.78,261.33 L1202.16,262.09 L1202.54,262.85 L1202.92,263.61 L1203.31,264.37 L1203.70,265.13 L1204.09,265.88 L1204.49,266.64 L1204.88,267.40 L1205.28,268.16 L1205.68,268.91 L1206.09,269.67 L1206.50,270.42 L1206.91,271.18 L1207.32,271.93 L1207.73,272.69 L1208.15,273.44 L1208.58,274.19 L1209.00,274.94 L1209.43,275.69 L1209.86,276.45 L1210.30,277.20 L1210.74,277.95 L1211.18,278.70 L1211.63,279.44 L1212.08,280.19 L1212.53,280.94 L1212.99,281.69 L1213.45,282.43 L1213.92,283.18 L1214.39,283.92 L1214.86,284.67 L1215.34,285.41 L1215.82,286.15 L1216.31,286.89 L1216.80,287.64 L1217.30,288.38 L1217.80,289.12 L1218.31,289.85 L1218.82,290.59 L1219.34,291.33 L1219.86,292.07 L1220.38,292.80 L1220.91,293.54 L1221.45,294.27 L1221.99,295.00 L1222.54,295.74 L1223.09,296.47 L1223.65,297.20 L1224.22,297.93 L1224.79,298.65 L1225.36,299.38 L1225.94,300.11 L1226.53,300.83 L1227.12,301.56 L1227.72,302.28 L1228.33,303.00 L1228.94,303.73 L1229.56,304.45 L1230.18,305.17 L1230.81,305.88 L1231.45,306.60 L1232.10,307.32 L1232.75,308.03 L1233.41,308.75 L1234.07,309.46 L1234.74,310.17 L1235.42,310.88 L1236.11,311.59 L1236.80,312.30 L1237.50,313.01 L1238.21,313.71 L1238.92,314.42 L1239.64,315.12 L1240.37,315.82 L1241.11,316.52 L1241.86,317.22 L1242.61,317.92 L1243.37,318.62 L1244.14,319.31 L1244.92,320.01 L1245.70,320.70 L1246.49,321.39 L1247.30,322.08 L1248.11,322.77 L1248.92,323.46 L1249.75,324.15 L1250.59,324.83 L1251.43,325.52 L1252.28,326.20 L1253.15,326.88 L1254.02,327.55 L1254.90,328.23 L1255.80,328.90 L1256.70,329.56 L1257.62,330.22 L1258.55,330.88 L1259.49,331.53 L1260.45,332.18 L1261.41,332.82 L1262.40,333.45 L1263.39,334.07 L1264.41,334.69 L1265.43,335.30 L1266.48,335.91 L1267.54,336.50 L1268.61,337.09 L1269.70,337.66 L1270.81,338.23 L1271.94,338.78 L1273.09,339.33 L1274.25,339.86 L1275.44,340.38 L1276.64,340.89 L1277.87,341.39 L1279.11,341.87 L1280.38,342.34 L1281.66,342.80 L1282.97,343.24 L1284.30,343.67 L1285.65,344.07 L1287.02,344.46 L1288.42,344.83 L1289.83,345.18 L1291.27,345.50 L1292.74,345.81 L1294.22,346.09 L1295.73,346.35 L1297.27,346.58 L1298.83,346.79 L1300.41,346.97 L1302.00,347.14 L1303.61,347.28 L1305.24,347.42 L1306.86,347.54 L1308.50,347.67 L1310.13,347.79 L1311.76,347.90 L1313.40,348.02 L1315.03,348.14 L1316.66,348.25 L1318.29,348.36 L1319.93,348.47 L1321.56,348.58 L1323.19,348.68 L1324.83,348.79 L1326.46,348.89 L1328.10,348.99 L1329.73,349.09 L1331.36,349.19 L1333.00,349.29 L1334.63,349.38 L1336.27,349.48 L1337.90,349.57 L1339.53,349.66 L1341.17,349.75 L1342.80,349.84 L1344.44,349.92 L1346.07,350.01 L1347.71,350.09 L1349.34,350.17 L1350.98,350.25 L1352.61,350.33 L1354.25,350.40 L1355.88,350.48 L1357.52,350.55 L1359.15,350.62 L1360.79,350.69 L1362.43,350.76 L1364.06,350.82 L1365.70,350.89 L1367.33,350.95 L1368.97,351.01 L1370.61,351.07 L1372.24,351.13 L1373.88,351.19 L1375.51,351.24 L1377.15,351.29 L1378.79,351.35 L1380.42,351.40 L1382.06,351.45 L1383.69,351.49 L1385.33,351.54 L1386.97,351.58 L1388.60,351.62 L1390.24,351.66 L1391.88,351.70 L1393.51,351.74 L1395.15,351.78 L1396.79,351.81 L1398.42,351.84 L1400.06,351.88 L1401.70,351.91 L1403.34,351.93 L1404.97,351.96 L1406.61,351.98 L1408.25,352.01 L1409.88,352.03 L1411.52,352.05 L1413.16,352.07 L1414.80,352.09 L1416.43,352.10 L1418.07,352.11 L1419.71,352.13 L1421.34,352.14 L1422.98,352.15 L1424.62,352.15 L1426.26,352.16 L1427.89,352.17 L1429.53,352.17 L1431.17,352.17 L1432.81,352.17 L1434.44,352.17 L1436.08,352.16 L1437.72,352.16 L1439.36,352.15 L1441.00,352.14 L1442.63,352.14 L1444.27,352.12 L1445.91,352.11 L1447.55,352.10 L1449.18,352.08 L1450.82,352.06 L1452.46,352.05 L1454.10,352.02 L1455.73,352.00 L1457.37,351.98 L1459.01,351.95 L1460.65,351.93 L1462.28,351.90 L1463.92,351.87 L1465.56,351.84 L1467.20,351.81 L1468.84,351.77 L1470.47,351.74 L1472.11,351.70 L1473.75,351.66 L1475.39,351.62 L1477.02,351.58 L1478.66,351.54 L1480.30,351.49 L1481.93,351.45 L1483.57,351.40 L1485.21,351.35 L1486.85,351.30 L1488.48,351.25 L1490.12,351.20 L1491.76,351.14 L1493.39,351.09 L1495.03,351.03 L1496.66,350.97 L1498.30,350.91 L1499.94,350.85 L1501.57,350.79 L1503.21,350.73 L1504.84,350.66 L1506.48,350.60 L1508.11,350.53 L1509.75,350.46 L1511.38,350.39 L1513.02,350.32 L1514.65,350.25 L1516.29,350.18 L1517.92,350.11 L1519.55,350.03 L1521.19,349.95 L1522.82,349.88 L1524.45,349.80 L1526.09,349.72 L1527.72,349.64 L1529.35,349.56 L1530.98,349.47 L1532.61,349.39 L1534.25,349.30 L1535.88,349.22 L1537.51,349.13 L1539.14,349.04 L1540.77,348.95 L1542.40,348.86 L1544.03,348.77 L1545.66,348.68 L1547.29,348.59 L1548.92,348.49 L1550.55,348.40 L1552.17,348.30 L1553.80,348.21 L1555.43,348.11 L1557.06,348.01 L1558.68,347.91 L1560.31,347.81 L1561.93,347.71 L1563.56,347.61 L1565.19,347.50 L1566.81,347.40 L1568.44,347.30 L1570.06,347.19 L1571.68,347.09 L1573.31,346.98 L1574.93,346.87 L1576.55,346.76 L1578.17,346.65 L1579.79,346.54 L1581.42,346.43 L1583.04,346.32 L1584.66,346.21 L1586.28,346.10 L1587.90,345.98 L1589.51,345.87 L1591.13,345.75 L1592.75,345.64 L1594.37,345.52 L1595.98,345.40" fill="none" stroke="#0000ff" stroke-width="3.2" stroke-linejoin="round"/></g></g>
<g fill="#000">
<rect x="950.30" y="55.10" width="3.4" height="685.90"/>
<rect x="947.20" y="734.10" width="647.40" height="3.7"/>
<rect x="946.8" y="55.10" width="4" height="6.8"/>
<rect x="946.8" y="123.03" width="4" height="6.8"/>
<rect x="946.8" y="190.96" width="4" height="6.8"/>
<rect x="946.8" y="258.89" width="4" height="6.8"/>
<rect x="946.8" y="326.82" width="4" height="6.8"/>
<rect x="946.8" y="394.75" width="4" height="6.8"/>
<rect x="946.8" y="462.68" width="4" height="6.8"/>
<rect x="946.8" y="530.61" width="4" height="6.8"/>
<rect x="946.8" y="598.54" width="4" height="6.8"/>
<rect x="946.8" y="666.47" width="4" height="6.8"/>
<rect x="1057.40" y="736.00" width="3" height="5.00"/>
<rect x="1164.30" y="736.00" width="3" height="5.00"/>
<rect x="1271.20" y="736.00" width="3" height="5.00"/>
<rect x="1378.10" y="736.00" width="3" height="5.00"/>
<rect x="1485.00" y="736.00" width="3" height="5.00"/>
<rect x="1591.90" y="736.00" width="3" height="5.00"/>
</g>
<text transform="translate(866.64,67.80) scale(0.9063,1)" font-size="43.00" font-weight="normal" fill="#000">50%</text>
<text transform="translate(867.43,135.27) scale(0.8970,1)" font-size="43.00" font-weight="normal" fill="#000">45%</text>
<text transform="translate(867.43,202.74) scale(0.8970,1)" font-size="43.00" font-weight="normal" fill="#000">40%</text>
<text transform="translate(867.04,270.21) scale(0.9016,1)" font-size="43.00" font-weight="normal" fill="#000">35%</text>
<text transform="translate(867.04,337.68) scale(0.9016,1)" font-size="43.00" font-weight="normal" fill="#000">30%</text>
<text transform="translate(866.24,405.15) scale(0.9110,1)" font-size="43.00" font-weight="normal" fill="#000">25%</text>
<text transform="translate(866.24,472.62) scale(0.9110,1)" font-size="43.00" font-weight="normal" fill="#000">20%</text>
<text transform="translate(865.43,540.09) scale(0.9205,1)" font-size="43.00" font-weight="normal" fill="#000">15%</text>
<text transform="translate(865.43,607.56) scale(0.9205,1)" font-size="43.00" font-weight="normal" fill="#000">10%</text>
<text transform="translate(888.96,675.03) scale(0.8957,1)" font-size="43.00" font-weight="normal" fill="#000">5%</text>
<text transform="translate(889.35,742.50) scale(0.8892,1)" font-size="43.00" font-weight="normal" fill="#000">0%</text>
<text transform="translate(931.59,781.70) scale(0.9376,1)" font-size="43.00" font-weight="normal" fill="#000">400</text>
<text transform="translate(1037.59,781.70) scale(0.9477,1)" font-size="43.00" font-weight="normal" fill="#000">450</text>
<text transform="translate(1144.89,781.70) scale(0.9362,1)" font-size="43.00" font-weight="normal" fill="#000">500</text>
<text transform="translate(1251.41,781.70) scale(0.9245,1)" font-size="43.00" font-weight="normal" fill="#000">550</text>
<text transform="translate(1356.84,781.70) scale(0.9597,1)" font-size="43.00" font-weight="normal" fill="#000">600</text>
<text transform="translate(1463.54,781.70) scale(0.9568,1)" font-size="43.00" font-weight="normal" fill="#000">650</text>
<text transform="translate(1572.55,781.70) scale(0.9068,1)" font-size="43.00" font-weight="normal" fill="#000">700</text>
<text transform="translate(1213.00,829.80) scale(0.9089,1)" font-size="43.00" font-weight="bold" fill="#000">Wavelength</text>
<text transform="translate(1444.50,829.80) scale(0.9751,1)" font-size="43.00" font-weight="bold" fill="#000">[nm]</text>
<text transform="rotate(-90) translate(-494.05,845.20) scale(0.8907,1)" font-size="43.50" font-weight="bold" fill="#000">Quantum</text>
<text transform="rotate(-90) translate(-312.31,845.20) scale(0.8451,1)" font-size="43.50" font-weight="bold" fill="#000">Efficiency</text>
<g fill="none" stroke-linecap="round" stroke-width="3.2">
<path d="M1063,33.5H1072.3M1085.1,33.5H1094.2" stroke="#ff0000"/>
<path d="M1176.9,33.5H1185.8M1210.4,33.5H1215.3" stroke="#008000"/>
<path d="M1341,33.5H1378.5" stroke="#0000ff"/>
</g>
<circle cx="1198.1" cy="33.6" r="1.35" fill="#008000"/>
<text transform="translate(1100.20,42.20) scale(0.8054,1)" font-size="43.50" font-weight="normal" fill="#000">Red</text>
<text transform="translate(1225.14,42.20) scale(0.8540,1)" font-size="43.50" font-weight="normal" fill="#000">Green</text>
<text transform="translate(1385.22,42.20) scale(0.9413,1)" font-size="43.50" font-weight="normal" fill="#000">Blue</text>
</svg></body></html>
